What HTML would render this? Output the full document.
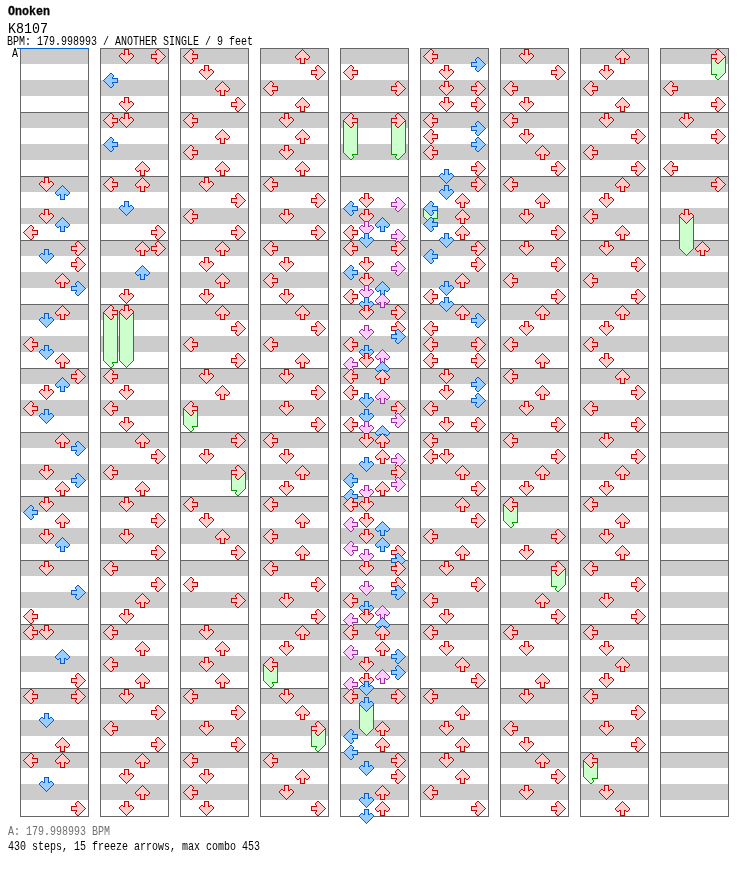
<!DOCTYPE html>
<html><head><meta charset="utf-8"><title>K8107 - Onoken</title>
<style>
html,body{margin:0;padding:0;background:#fff;}
body{width:752px;height:876px;position:relative;overflow:hidden;font-family:"Liberation Mono", "DejaVu Sans Mono", monospace;color:#000;}
svg{position:absolute;left:0;top:0;display:block;}
.t{will-change:transform;position:absolute;white-space:pre;line-height:1;margin:0;transform-origin:0 0;}
#artist{left:8px;top:6.5px;font-size:11.667px;font-weight:bold;-webkit-text-stroke:0.25px #000;transform:scaleY(1.06);}
#title{left:8px;top:22.4px;font-size:13.333px;transform:scaleY(1.139);}
#info{left:7px;top:37.1px;font-size:10px;transform:scaleY(1.214);}
#lab{left:11.5px;top:49.2px;font-size:10px;transform:scaleY(1.214);}
#bpm{left:8px;top:827.1px;font-size:10px;color:#707070;transform:scaleY(1.214);}
#stats{left:8px;top:842.1px;font-size:10px;transform:scaleY(1.214);}
</style></head><body>
<svg width="752" height="876" viewBox="0 0 752 876">
<g shape-rendering="crispEdges">
<rect x="20" y="48" width="69" height="16" fill="#cccccc"/>
<rect x="20" y="80" width="69" height="16" fill="#cccccc"/>
<rect x="20" y="112" width="69" height="16" fill="#cccccc"/>
<rect x="20" y="144" width="69" height="16" fill="#cccccc"/>
<rect x="20" y="176" width="69" height="16" fill="#cccccc"/>
<rect x="20" y="208" width="69" height="16" fill="#cccccc"/>
<rect x="20" y="240" width="69" height="16" fill="#cccccc"/>
<rect x="20" y="272" width="69" height="16" fill="#cccccc"/>
<rect x="20" y="304" width="69" height="16" fill="#cccccc"/>
<rect x="20" y="336" width="69" height="16" fill="#cccccc"/>
<rect x="20" y="368" width="69" height="16" fill="#cccccc"/>
<rect x="20" y="400" width="69" height="16" fill="#cccccc"/>
<rect x="20" y="432" width="69" height="16" fill="#cccccc"/>
<rect x="20" y="464" width="69" height="16" fill="#cccccc"/>
<rect x="20" y="496" width="69" height="16" fill="#cccccc"/>
<rect x="20" y="528" width="69" height="16" fill="#cccccc"/>
<rect x="20" y="560" width="69" height="16" fill="#cccccc"/>
<rect x="20" y="592" width="69" height="16" fill="#cccccc"/>
<rect x="20" y="624" width="69" height="16" fill="#cccccc"/>
<rect x="20" y="656" width="69" height="16" fill="#cccccc"/>
<rect x="20" y="688" width="69" height="16" fill="#cccccc"/>
<rect x="20" y="720" width="69" height="16" fill="#cccccc"/>
<rect x="20" y="752" width="69" height="16" fill="#cccccc"/>
<rect x="20" y="784" width="69" height="16" fill="#cccccc"/>
<rect x="100" y="48" width="69" height="16" fill="#cccccc"/>
<rect x="100" y="80" width="69" height="16" fill="#cccccc"/>
<rect x="100" y="112" width="69" height="16" fill="#cccccc"/>
<rect x="100" y="144" width="69" height="16" fill="#cccccc"/>
<rect x="100" y="176" width="69" height="16" fill="#cccccc"/>
<rect x="100" y="208" width="69" height="16" fill="#cccccc"/>
<rect x="100" y="240" width="69" height="16" fill="#cccccc"/>
<rect x="100" y="272" width="69" height="16" fill="#cccccc"/>
<rect x="100" y="304" width="69" height="16" fill="#cccccc"/>
<rect x="100" y="336" width="69" height="16" fill="#cccccc"/>
<rect x="100" y="368" width="69" height="16" fill="#cccccc"/>
<rect x="100" y="400" width="69" height="16" fill="#cccccc"/>
<rect x="100" y="432" width="69" height="16" fill="#cccccc"/>
<rect x="100" y="464" width="69" height="16" fill="#cccccc"/>
<rect x="100" y="496" width="69" height="16" fill="#cccccc"/>
<rect x="100" y="528" width="69" height="16" fill="#cccccc"/>
<rect x="100" y="560" width="69" height="16" fill="#cccccc"/>
<rect x="100" y="592" width="69" height="16" fill="#cccccc"/>
<rect x="100" y="624" width="69" height="16" fill="#cccccc"/>
<rect x="100" y="656" width="69" height="16" fill="#cccccc"/>
<rect x="100" y="688" width="69" height="16" fill="#cccccc"/>
<rect x="100" y="720" width="69" height="16" fill="#cccccc"/>
<rect x="100" y="752" width="69" height="16" fill="#cccccc"/>
<rect x="100" y="784" width="69" height="16" fill="#cccccc"/>
<rect x="180" y="48" width="69" height="16" fill="#cccccc"/>
<rect x="180" y="80" width="69" height="16" fill="#cccccc"/>
<rect x="180" y="112" width="69" height="16" fill="#cccccc"/>
<rect x="180" y="144" width="69" height="16" fill="#cccccc"/>
<rect x="180" y="176" width="69" height="16" fill="#cccccc"/>
<rect x="180" y="208" width="69" height="16" fill="#cccccc"/>
<rect x="180" y="240" width="69" height="16" fill="#cccccc"/>
<rect x="180" y="272" width="69" height="16" fill="#cccccc"/>
<rect x="180" y="304" width="69" height="16" fill="#cccccc"/>
<rect x="180" y="336" width="69" height="16" fill="#cccccc"/>
<rect x="180" y="368" width="69" height="16" fill="#cccccc"/>
<rect x="180" y="400" width="69" height="16" fill="#cccccc"/>
<rect x="180" y="432" width="69" height="16" fill="#cccccc"/>
<rect x="180" y="464" width="69" height="16" fill="#cccccc"/>
<rect x="180" y="496" width="69" height="16" fill="#cccccc"/>
<rect x="180" y="528" width="69" height="16" fill="#cccccc"/>
<rect x="180" y="560" width="69" height="16" fill="#cccccc"/>
<rect x="180" y="592" width="69" height="16" fill="#cccccc"/>
<rect x="180" y="624" width="69" height="16" fill="#cccccc"/>
<rect x="180" y="656" width="69" height="16" fill="#cccccc"/>
<rect x="180" y="688" width="69" height="16" fill="#cccccc"/>
<rect x="180" y="720" width="69" height="16" fill="#cccccc"/>
<rect x="180" y="752" width="69" height="16" fill="#cccccc"/>
<rect x="180" y="784" width="69" height="16" fill="#cccccc"/>
<rect x="260" y="48" width="69" height="16" fill="#cccccc"/>
<rect x="260" y="80" width="69" height="16" fill="#cccccc"/>
<rect x="260" y="112" width="69" height="16" fill="#cccccc"/>
<rect x="260" y="144" width="69" height="16" fill="#cccccc"/>
<rect x="260" y="176" width="69" height="16" fill="#cccccc"/>
<rect x="260" y="208" width="69" height="16" fill="#cccccc"/>
<rect x="260" y="240" width="69" height="16" fill="#cccccc"/>
<rect x="260" y="272" width="69" height="16" fill="#cccccc"/>
<rect x="260" y="304" width="69" height="16" fill="#cccccc"/>
<rect x="260" y="336" width="69" height="16" fill="#cccccc"/>
<rect x="260" y="368" width="69" height="16" fill="#cccccc"/>
<rect x="260" y="400" width="69" height="16" fill="#cccccc"/>
<rect x="260" y="432" width="69" height="16" fill="#cccccc"/>
<rect x="260" y="464" width="69" height="16" fill="#cccccc"/>
<rect x="260" y="496" width="69" height="16" fill="#cccccc"/>
<rect x="260" y="528" width="69" height="16" fill="#cccccc"/>
<rect x="260" y="560" width="69" height="16" fill="#cccccc"/>
<rect x="260" y="592" width="69" height="16" fill="#cccccc"/>
<rect x="260" y="624" width="69" height="16" fill="#cccccc"/>
<rect x="260" y="656" width="69" height="16" fill="#cccccc"/>
<rect x="260" y="688" width="69" height="16" fill="#cccccc"/>
<rect x="260" y="720" width="69" height="16" fill="#cccccc"/>
<rect x="260" y="752" width="69" height="16" fill="#cccccc"/>
<rect x="260" y="784" width="69" height="16" fill="#cccccc"/>
<rect x="340" y="48" width="69" height="16" fill="#cccccc"/>
<rect x="340" y="80" width="69" height="16" fill="#cccccc"/>
<rect x="340" y="112" width="69" height="16" fill="#cccccc"/>
<rect x="340" y="144" width="69" height="16" fill="#cccccc"/>
<rect x="340" y="176" width="69" height="16" fill="#cccccc"/>
<rect x="340" y="208" width="69" height="16" fill="#cccccc"/>
<rect x="340" y="240" width="69" height="16" fill="#cccccc"/>
<rect x="340" y="272" width="69" height="16" fill="#cccccc"/>
<rect x="340" y="304" width="69" height="16" fill="#cccccc"/>
<rect x="340" y="336" width="69" height="16" fill="#cccccc"/>
<rect x="340" y="368" width="69" height="16" fill="#cccccc"/>
<rect x="340" y="400" width="69" height="16" fill="#cccccc"/>
<rect x="340" y="432" width="69" height="16" fill="#cccccc"/>
<rect x="340" y="464" width="69" height="16" fill="#cccccc"/>
<rect x="340" y="496" width="69" height="16" fill="#cccccc"/>
<rect x="340" y="528" width="69" height="16" fill="#cccccc"/>
<rect x="340" y="560" width="69" height="16" fill="#cccccc"/>
<rect x="340" y="592" width="69" height="16" fill="#cccccc"/>
<rect x="340" y="624" width="69" height="16" fill="#cccccc"/>
<rect x="340" y="656" width="69" height="16" fill="#cccccc"/>
<rect x="340" y="688" width="69" height="16" fill="#cccccc"/>
<rect x="340" y="720" width="69" height="16" fill="#cccccc"/>
<rect x="340" y="752" width="69" height="16" fill="#cccccc"/>
<rect x="340" y="784" width="69" height="16" fill="#cccccc"/>
<rect x="420" y="48" width="69" height="16" fill="#cccccc"/>
<rect x="420" y="80" width="69" height="16" fill="#cccccc"/>
<rect x="420" y="112" width="69" height="16" fill="#cccccc"/>
<rect x="420" y="144" width="69" height="16" fill="#cccccc"/>
<rect x="420" y="176" width="69" height="16" fill="#cccccc"/>
<rect x="420" y="208" width="69" height="16" fill="#cccccc"/>
<rect x="420" y="240" width="69" height="16" fill="#cccccc"/>
<rect x="420" y="272" width="69" height="16" fill="#cccccc"/>
<rect x="420" y="304" width="69" height="16" fill="#cccccc"/>
<rect x="420" y="336" width="69" height="16" fill="#cccccc"/>
<rect x="420" y="368" width="69" height="16" fill="#cccccc"/>
<rect x="420" y="400" width="69" height="16" fill="#cccccc"/>
<rect x="420" y="432" width="69" height="16" fill="#cccccc"/>
<rect x="420" y="464" width="69" height="16" fill="#cccccc"/>
<rect x="420" y="496" width="69" height="16" fill="#cccccc"/>
<rect x="420" y="528" width="69" height="16" fill="#cccccc"/>
<rect x="420" y="560" width="69" height="16" fill="#cccccc"/>
<rect x="420" y="592" width="69" height="16" fill="#cccccc"/>
<rect x="420" y="624" width="69" height="16" fill="#cccccc"/>
<rect x="420" y="656" width="69" height="16" fill="#cccccc"/>
<rect x="420" y="688" width="69" height="16" fill="#cccccc"/>
<rect x="420" y="720" width="69" height="16" fill="#cccccc"/>
<rect x="420" y="752" width="69" height="16" fill="#cccccc"/>
<rect x="420" y="784" width="69" height="16" fill="#cccccc"/>
<rect x="500" y="48" width="69" height="16" fill="#cccccc"/>
<rect x="500" y="80" width="69" height="16" fill="#cccccc"/>
<rect x="500" y="112" width="69" height="16" fill="#cccccc"/>
<rect x="500" y="144" width="69" height="16" fill="#cccccc"/>
<rect x="500" y="176" width="69" height="16" fill="#cccccc"/>
<rect x="500" y="208" width="69" height="16" fill="#cccccc"/>
<rect x="500" y="240" width="69" height="16" fill="#cccccc"/>
<rect x="500" y="272" width="69" height="16" fill="#cccccc"/>
<rect x="500" y="304" width="69" height="16" fill="#cccccc"/>
<rect x="500" y="336" width="69" height="16" fill="#cccccc"/>
<rect x="500" y="368" width="69" height="16" fill="#cccccc"/>
<rect x="500" y="400" width="69" height="16" fill="#cccccc"/>
<rect x="500" y="432" width="69" height="16" fill="#cccccc"/>
<rect x="500" y="464" width="69" height="16" fill="#cccccc"/>
<rect x="500" y="496" width="69" height="16" fill="#cccccc"/>
<rect x="500" y="528" width="69" height="16" fill="#cccccc"/>
<rect x="500" y="560" width="69" height="16" fill="#cccccc"/>
<rect x="500" y="592" width="69" height="16" fill="#cccccc"/>
<rect x="500" y="624" width="69" height="16" fill="#cccccc"/>
<rect x="500" y="656" width="69" height="16" fill="#cccccc"/>
<rect x="500" y="688" width="69" height="16" fill="#cccccc"/>
<rect x="500" y="720" width="69" height="16" fill="#cccccc"/>
<rect x="500" y="752" width="69" height="16" fill="#cccccc"/>
<rect x="500" y="784" width="69" height="16" fill="#cccccc"/>
<rect x="580" y="48" width="69" height="16" fill="#cccccc"/>
<rect x="580" y="80" width="69" height="16" fill="#cccccc"/>
<rect x="580" y="112" width="69" height="16" fill="#cccccc"/>
<rect x="580" y="144" width="69" height="16" fill="#cccccc"/>
<rect x="580" y="176" width="69" height="16" fill="#cccccc"/>
<rect x="580" y="208" width="69" height="16" fill="#cccccc"/>
<rect x="580" y="240" width="69" height="16" fill="#cccccc"/>
<rect x="580" y="272" width="69" height="16" fill="#cccccc"/>
<rect x="580" y="304" width="69" height="16" fill="#cccccc"/>
<rect x="580" y="336" width="69" height="16" fill="#cccccc"/>
<rect x="580" y="368" width="69" height="16" fill="#cccccc"/>
<rect x="580" y="400" width="69" height="16" fill="#cccccc"/>
<rect x="580" y="432" width="69" height="16" fill="#cccccc"/>
<rect x="580" y="464" width="69" height="16" fill="#cccccc"/>
<rect x="580" y="496" width="69" height="16" fill="#cccccc"/>
<rect x="580" y="528" width="69" height="16" fill="#cccccc"/>
<rect x="580" y="560" width="69" height="16" fill="#cccccc"/>
<rect x="580" y="592" width="69" height="16" fill="#cccccc"/>
<rect x="580" y="624" width="69" height="16" fill="#cccccc"/>
<rect x="580" y="656" width="69" height="16" fill="#cccccc"/>
<rect x="580" y="688" width="69" height="16" fill="#cccccc"/>
<rect x="580" y="720" width="69" height="16" fill="#cccccc"/>
<rect x="580" y="752" width="69" height="16" fill="#cccccc"/>
<rect x="580" y="784" width="69" height="16" fill="#cccccc"/>
<rect x="660" y="48" width="69" height="16" fill="#cccccc"/>
<rect x="660" y="80" width="69" height="16" fill="#cccccc"/>
<rect x="660" y="112" width="69" height="16" fill="#cccccc"/>
<rect x="660" y="144" width="69" height="16" fill="#cccccc"/>
<rect x="660" y="176" width="69" height="16" fill="#cccccc"/>
<rect x="660" y="208" width="69" height="16" fill="#cccccc"/>
<rect x="660" y="240" width="69" height="16" fill="#cccccc"/>
<rect x="660" y="272" width="69" height="16" fill="#cccccc"/>
<rect x="660" y="304" width="69" height="16" fill="#cccccc"/>
<rect x="660" y="336" width="69" height="16" fill="#cccccc"/>
<rect x="660" y="368" width="69" height="16" fill="#cccccc"/>
<rect x="660" y="400" width="69" height="16" fill="#cccccc"/>
<rect x="660" y="432" width="69" height="16" fill="#cccccc"/>
<rect x="660" y="464" width="69" height="16" fill="#cccccc"/>
<rect x="660" y="496" width="69" height="16" fill="#cccccc"/>
<rect x="660" y="528" width="69" height="16" fill="#cccccc"/>
<rect x="660" y="560" width="69" height="16" fill="#cccccc"/>
<rect x="660" y="592" width="69" height="16" fill="#cccccc"/>
<rect x="660" y="624" width="69" height="16" fill="#cccccc"/>
<rect x="660" y="656" width="69" height="16" fill="#cccccc"/>
<rect x="660" y="688" width="69" height="16" fill="#cccccc"/>
<rect x="660" y="720" width="69" height="16" fill="#cccccc"/>
<rect x="660" y="752" width="69" height="16" fill="#cccccc"/>
<rect x="660" y="784" width="69" height="16" fill="#cccccc"/>
<rect x="20.5" y="48.5" width="68" height="768" fill="none" stroke="#666666"/>
<rect x="20" y="112" width="69" height="1" fill="#666666"/>
<rect x="20" y="176" width="69" height="1" fill="#666666"/>
<rect x="20" y="240" width="69" height="1" fill="#666666"/>
<rect x="20" y="304" width="69" height="1" fill="#666666"/>
<rect x="20" y="368" width="69" height="1" fill="#666666"/>
<rect x="20" y="432" width="69" height="1" fill="#666666"/>
<rect x="20" y="496" width="69" height="1" fill="#666666"/>
<rect x="20" y="560" width="69" height="1" fill="#666666"/>
<rect x="20" y="624" width="69" height="1" fill="#666666"/>
<rect x="20" y="688" width="69" height="1" fill="#666666"/>
<rect x="20" y="752" width="69" height="1" fill="#666666"/>
<rect x="100.5" y="48.5" width="68" height="768" fill="none" stroke="#666666"/>
<rect x="100" y="112" width="69" height="1" fill="#666666"/>
<rect x="100" y="176" width="69" height="1" fill="#666666"/>
<rect x="100" y="240" width="69" height="1" fill="#666666"/>
<rect x="100" y="304" width="69" height="1" fill="#666666"/>
<rect x="100" y="368" width="69" height="1" fill="#666666"/>
<rect x="100" y="432" width="69" height="1" fill="#666666"/>
<rect x="100" y="496" width="69" height="1" fill="#666666"/>
<rect x="100" y="560" width="69" height="1" fill="#666666"/>
<rect x="100" y="624" width="69" height="1" fill="#666666"/>
<rect x="100" y="688" width="69" height="1" fill="#666666"/>
<rect x="100" y="752" width="69" height="1" fill="#666666"/>
<rect x="180.5" y="48.5" width="68" height="768" fill="none" stroke="#666666"/>
<rect x="180" y="112" width="69" height="1" fill="#666666"/>
<rect x="180" y="176" width="69" height="1" fill="#666666"/>
<rect x="180" y="240" width="69" height="1" fill="#666666"/>
<rect x="180" y="304" width="69" height="1" fill="#666666"/>
<rect x="180" y="368" width="69" height="1" fill="#666666"/>
<rect x="180" y="432" width="69" height="1" fill="#666666"/>
<rect x="180" y="496" width="69" height="1" fill="#666666"/>
<rect x="180" y="560" width="69" height="1" fill="#666666"/>
<rect x="180" y="624" width="69" height="1" fill="#666666"/>
<rect x="180" y="688" width="69" height="1" fill="#666666"/>
<rect x="180" y="752" width="69" height="1" fill="#666666"/>
<rect x="260.5" y="48.5" width="68" height="768" fill="none" stroke="#666666"/>
<rect x="260" y="112" width="69" height="1" fill="#666666"/>
<rect x="260" y="176" width="69" height="1" fill="#666666"/>
<rect x="260" y="240" width="69" height="1" fill="#666666"/>
<rect x="260" y="304" width="69" height="1" fill="#666666"/>
<rect x="260" y="368" width="69" height="1" fill="#666666"/>
<rect x="260" y="432" width="69" height="1" fill="#666666"/>
<rect x="260" y="496" width="69" height="1" fill="#666666"/>
<rect x="260" y="560" width="69" height="1" fill="#666666"/>
<rect x="260" y="624" width="69" height="1" fill="#666666"/>
<rect x="260" y="688" width="69" height="1" fill="#666666"/>
<rect x="260" y="752" width="69" height="1" fill="#666666"/>
<rect x="340.5" y="48.5" width="68" height="768" fill="none" stroke="#666666"/>
<rect x="340" y="112" width="69" height="1" fill="#666666"/>
<rect x="340" y="176" width="69" height="1" fill="#666666"/>
<rect x="340" y="240" width="69" height="1" fill="#666666"/>
<rect x="340" y="304" width="69" height="1" fill="#666666"/>
<rect x="340" y="368" width="69" height="1" fill="#666666"/>
<rect x="340" y="432" width="69" height="1" fill="#666666"/>
<rect x="340" y="496" width="69" height="1" fill="#666666"/>
<rect x="340" y="560" width="69" height="1" fill="#666666"/>
<rect x="340" y="624" width="69" height="1" fill="#666666"/>
<rect x="340" y="688" width="69" height="1" fill="#666666"/>
<rect x="340" y="752" width="69" height="1" fill="#666666"/>
<rect x="420.5" y="48.5" width="68" height="768" fill="none" stroke="#666666"/>
<rect x="420" y="112" width="69" height="1" fill="#666666"/>
<rect x="420" y="176" width="69" height="1" fill="#666666"/>
<rect x="420" y="240" width="69" height="1" fill="#666666"/>
<rect x="420" y="304" width="69" height="1" fill="#666666"/>
<rect x="420" y="368" width="69" height="1" fill="#666666"/>
<rect x="420" y="432" width="69" height="1" fill="#666666"/>
<rect x="420" y="496" width="69" height="1" fill="#666666"/>
<rect x="420" y="560" width="69" height="1" fill="#666666"/>
<rect x="420" y="624" width="69" height="1" fill="#666666"/>
<rect x="420" y="688" width="69" height="1" fill="#666666"/>
<rect x="420" y="752" width="69" height="1" fill="#666666"/>
<rect x="500.5" y="48.5" width="68" height="768" fill="none" stroke="#666666"/>
<rect x="500" y="112" width="69" height="1" fill="#666666"/>
<rect x="500" y="176" width="69" height="1" fill="#666666"/>
<rect x="500" y="240" width="69" height="1" fill="#666666"/>
<rect x="500" y="304" width="69" height="1" fill="#666666"/>
<rect x="500" y="368" width="69" height="1" fill="#666666"/>
<rect x="500" y="432" width="69" height="1" fill="#666666"/>
<rect x="500" y="496" width="69" height="1" fill="#666666"/>
<rect x="500" y="560" width="69" height="1" fill="#666666"/>
<rect x="500" y="624" width="69" height="1" fill="#666666"/>
<rect x="500" y="688" width="69" height="1" fill="#666666"/>
<rect x="500" y="752" width="69" height="1" fill="#666666"/>
<rect x="580.5" y="48.5" width="68" height="768" fill="none" stroke="#666666"/>
<rect x="580" y="112" width="69" height="1" fill="#666666"/>
<rect x="580" y="176" width="69" height="1" fill="#666666"/>
<rect x="580" y="240" width="69" height="1" fill="#666666"/>
<rect x="580" y="304" width="69" height="1" fill="#666666"/>
<rect x="580" y="368" width="69" height="1" fill="#666666"/>
<rect x="580" y="432" width="69" height="1" fill="#666666"/>
<rect x="580" y="496" width="69" height="1" fill="#666666"/>
<rect x="580" y="560" width="69" height="1" fill="#666666"/>
<rect x="580" y="624" width="69" height="1" fill="#666666"/>
<rect x="580" y="688" width="69" height="1" fill="#666666"/>
<rect x="580" y="752" width="69" height="1" fill="#666666"/>
<rect x="660.5" y="48.5" width="68" height="768" fill="none" stroke="#666666"/>
<rect x="660" y="112" width="69" height="1" fill="#666666"/>
<rect x="660" y="176" width="69" height="1" fill="#666666"/>
<rect x="660" y="240" width="69" height="1" fill="#666666"/>
<rect x="660" y="304" width="69" height="1" fill="#666666"/>
<rect x="660" y="368" width="69" height="1" fill="#666666"/>
<rect x="660" y="432" width="69" height="1" fill="#666666"/>
<rect x="660" y="496" width="69" height="1" fill="#666666"/>
<rect x="660" y="560" width="69" height="1" fill="#666666"/>
<rect x="660" y="624" width="69" height="1" fill="#666666"/>
<rect x="660" y="688" width="69" height="1" fill="#666666"/>
<rect x="660" y="752" width="69" height="1" fill="#666666"/>
<rect x="17" y="48" width="72" height="1" fill="#0066cc"/>
</g>
<g stroke-width="1" stroke-linejoin="miter" shape-rendering="crispEdges">
<polygon points="44.5,177.5 48.5,177.5 48.5,182.5 49.5,182.5 50.5,181.5 51.5,181.5 53.5,183.5 53.5,184.5 46.5,191.5 39.5,184.5 39.5,183.5 41.5,181.5 42.5,181.5 43.5,182.5 44.5,182.5" fill="#ffcccc" stroke="#d40000"/>
<polygon points="60.5,199.5 64.5,199.5 64.5,194.5 65.5,194.5 66.5,195.5 67.5,195.5 69.5,193.5 69.5,192.5 62.5,185.5 55.5,192.5 55.5,193.5 57.5,195.5 58.5,195.5 59.5,194.5 60.5,194.5" fill="#99ccff" stroke="#005fcc"/>
<polygon points="44.5,209.5 48.5,209.5 48.5,214.5 49.5,214.5 50.5,213.5 51.5,213.5 53.5,215.5 53.5,216.5 46.5,223.5 39.5,216.5 39.5,215.5 41.5,213.5 42.5,213.5 43.5,214.5 44.5,214.5" fill="#ffcccc" stroke="#d40000"/>
<polygon points="60.5,231.5 64.5,231.5 64.5,226.5 65.5,226.5 66.5,227.5 67.5,227.5 69.5,225.5 69.5,224.5 62.5,217.5 55.5,224.5 55.5,225.5 57.5,227.5 58.5,227.5 59.5,226.5 60.5,226.5" fill="#99ccff" stroke="#005fcc"/>
<polygon points="37.5,230.5 37.5,234.5 32.5,234.5 32.5,235.5 33.5,236.5 33.5,237.5 31.5,239.5 30.5,239.5 23.5,232.5 30.5,225.5 31.5,225.5 33.5,227.5 33.5,228.5 32.5,229.5 32.5,230.5" fill="#ffcccc" stroke="#d40000"/>
<polygon points="71.5,246.5 71.5,250.5 76.5,250.5 76.5,251.5 75.5,252.5 75.5,253.5 77.5,255.5 78.5,255.5 85.5,248.5 78.5,241.5 77.5,241.5 75.5,243.5 75.5,244.5 76.5,245.5 76.5,246.5" fill="#ffcccc" stroke="#d40000"/>
<polygon points="44.5,249.5 48.5,249.5 48.5,254.5 49.5,254.5 50.5,253.5 51.5,253.5 53.5,255.5 53.5,256.5 46.5,263.5 39.5,256.5 39.5,255.5 41.5,253.5 42.5,253.5 43.5,254.5 44.5,254.5" fill="#99ccff" stroke="#005fcc"/>
<polygon points="71.5,262.5 71.5,266.5 76.5,266.5 76.5,267.5 75.5,268.5 75.5,269.5 77.5,271.5 78.5,271.5 85.5,264.5 78.5,257.5 77.5,257.5 75.5,259.5 75.5,260.5 76.5,261.5 76.5,262.5" fill="#ffcccc" stroke="#d40000"/>
<polygon points="60.5,287.5 64.5,287.5 64.5,282.5 65.5,282.5 66.5,283.5 67.5,283.5 69.5,281.5 69.5,280.5 62.5,273.5 55.5,280.5 55.5,281.5 57.5,283.5 58.5,283.5 59.5,282.5 60.5,282.5" fill="#ffcccc" stroke="#d40000"/>
<polygon points="71.5,286.5 71.5,290.5 76.5,290.5 76.5,291.5 75.5,292.5 75.5,293.5 77.5,295.5 78.5,295.5 85.5,288.5 78.5,281.5 77.5,281.5 75.5,283.5 75.5,284.5 76.5,285.5 76.5,286.5" fill="#99ccff" stroke="#005fcc"/>
<polygon points="60.5,319.5 64.5,319.5 64.5,314.5 65.5,314.5 66.5,315.5 67.5,315.5 69.5,313.5 69.5,312.5 62.5,305.5 55.5,312.5 55.5,313.5 57.5,315.5 58.5,315.5 59.5,314.5 60.5,314.5" fill="#ffcccc" stroke="#d40000"/>
<polygon points="44.5,313.5 48.5,313.5 48.5,318.5 49.5,318.5 50.5,317.5 51.5,317.5 53.5,319.5 53.5,320.5 46.5,327.5 39.5,320.5 39.5,319.5 41.5,317.5 42.5,317.5 43.5,318.5 44.5,318.5" fill="#99ccff" stroke="#005fcc"/>
<polygon points="37.5,342.5 37.5,346.5 32.5,346.5 32.5,347.5 33.5,348.5 33.5,349.5 31.5,351.5 30.5,351.5 23.5,344.5 30.5,337.5 31.5,337.5 33.5,339.5 33.5,340.5 32.5,341.5 32.5,342.5" fill="#ffcccc" stroke="#d40000"/>
<polygon points="44.5,345.5 48.5,345.5 48.5,350.5 49.5,350.5 50.5,349.5 51.5,349.5 53.5,351.5 53.5,352.5 46.5,359.5 39.5,352.5 39.5,351.5 41.5,349.5 42.5,349.5 43.5,350.5 44.5,350.5" fill="#99ccff" stroke="#005fcc"/>
<polygon points="60.5,367.5 64.5,367.5 64.5,362.5 65.5,362.5 66.5,363.5 67.5,363.5 69.5,361.5 69.5,360.5 62.5,353.5 55.5,360.5 55.5,361.5 57.5,363.5 58.5,363.5 59.5,362.5 60.5,362.5" fill="#ffcccc" stroke="#d40000"/>
<polygon points="71.5,374.5 71.5,378.5 76.5,378.5 76.5,379.5 75.5,380.5 75.5,381.5 77.5,383.5 78.5,383.5 85.5,376.5 78.5,369.5 77.5,369.5 75.5,371.5 75.5,372.5 76.5,373.5 76.5,374.5" fill="#ffcccc" stroke="#d40000"/>
<polygon points="60.5,391.5 64.5,391.5 64.5,386.5 65.5,386.5 66.5,387.5 67.5,387.5 69.5,385.5 69.5,384.5 62.5,377.5 55.5,384.5 55.5,385.5 57.5,387.5 58.5,387.5 59.5,386.5 60.5,386.5" fill="#99ccff" stroke="#005fcc"/>
<polygon points="44.5,385.5 48.5,385.5 48.5,390.5 49.5,390.5 50.5,389.5 51.5,389.5 53.5,391.5 53.5,392.5 46.5,399.5 39.5,392.5 39.5,391.5 41.5,389.5 42.5,389.5 43.5,390.5 44.5,390.5" fill="#ffcccc" stroke="#d40000"/>
<polygon points="37.5,406.5 37.5,410.5 32.5,410.5 32.5,411.5 33.5,412.5 33.5,413.5 31.5,415.5 30.5,415.5 23.5,408.5 30.5,401.5 31.5,401.5 33.5,403.5 33.5,404.5 32.5,405.5 32.5,406.5" fill="#ffcccc" stroke="#d40000"/>
<polygon points="44.5,409.5 48.5,409.5 48.5,414.5 49.5,414.5 50.5,413.5 51.5,413.5 53.5,415.5 53.5,416.5 46.5,423.5 39.5,416.5 39.5,415.5 41.5,413.5 42.5,413.5 43.5,414.5 44.5,414.5" fill="#99ccff" stroke="#005fcc"/>
<polygon points="60.5,447.5 64.5,447.5 64.5,442.5 65.5,442.5 66.5,443.5 67.5,443.5 69.5,441.5 69.5,440.5 62.5,433.5 55.5,440.5 55.5,441.5 57.5,443.5 58.5,443.5 59.5,442.5 60.5,442.5" fill="#ffcccc" stroke="#d40000"/>
<polygon points="71.5,446.5 71.5,450.5 76.5,450.5 76.5,451.5 75.5,452.5 75.5,453.5 77.5,455.5 78.5,455.5 85.5,448.5 78.5,441.5 77.5,441.5 75.5,443.5 75.5,444.5 76.5,445.5 76.5,446.5" fill="#99ccff" stroke="#005fcc"/>
<polygon points="44.5,465.5 48.5,465.5 48.5,470.5 49.5,470.5 50.5,469.5 51.5,469.5 53.5,471.5 53.5,472.5 46.5,479.5 39.5,472.5 39.5,471.5 41.5,469.5 42.5,469.5 43.5,470.5 44.5,470.5" fill="#ffcccc" stroke="#d40000"/>
<polygon points="71.5,478.5 71.5,482.5 76.5,482.5 76.5,483.5 75.5,484.5 75.5,485.5 77.5,487.5 78.5,487.5 85.5,480.5 78.5,473.5 77.5,473.5 75.5,475.5 75.5,476.5 76.5,477.5 76.5,478.5" fill="#99ccff" stroke="#005fcc"/>
<polygon points="60.5,495.5 64.5,495.5 64.5,490.5 65.5,490.5 66.5,491.5 67.5,491.5 69.5,489.5 69.5,488.5 62.5,481.5 55.5,488.5 55.5,489.5 57.5,491.5 58.5,491.5 59.5,490.5 60.5,490.5" fill="#ffcccc" stroke="#d40000"/>
<polygon points="44.5,497.5 48.5,497.5 48.5,502.5 49.5,502.5 50.5,501.5 51.5,501.5 53.5,503.5 53.5,504.5 46.5,511.5 39.5,504.5 39.5,503.5 41.5,501.5 42.5,501.5 43.5,502.5 44.5,502.5" fill="#ffcccc" stroke="#d40000"/>
<polygon points="37.5,510.5 37.5,514.5 32.5,514.5 32.5,515.5 33.5,516.5 33.5,517.5 31.5,519.5 30.5,519.5 23.5,512.5 30.5,505.5 31.5,505.5 33.5,507.5 33.5,508.5 32.5,509.5 32.5,510.5" fill="#99ccff" stroke="#005fcc"/>
<polygon points="60.5,527.5 64.5,527.5 64.5,522.5 65.5,522.5 66.5,523.5 67.5,523.5 69.5,521.5 69.5,520.5 62.5,513.5 55.5,520.5 55.5,521.5 57.5,523.5 58.5,523.5 59.5,522.5 60.5,522.5" fill="#ffcccc" stroke="#d40000"/>
<polygon points="44.5,529.5 48.5,529.5 48.5,534.5 49.5,534.5 50.5,533.5 51.5,533.5 53.5,535.5 53.5,536.5 46.5,543.5 39.5,536.5 39.5,535.5 41.5,533.5 42.5,533.5 43.5,534.5 44.5,534.5" fill="#ffcccc" stroke="#d40000"/>
<polygon points="60.5,551.5 64.5,551.5 64.5,546.5 65.5,546.5 66.5,547.5 67.5,547.5 69.5,545.5 69.5,544.5 62.5,537.5 55.5,544.5 55.5,545.5 57.5,547.5 58.5,547.5 59.5,546.5 60.5,546.5" fill="#99ccff" stroke="#005fcc"/>
<polygon points="44.5,561.5 48.5,561.5 48.5,566.5 49.5,566.5 50.5,565.5 51.5,565.5 53.5,567.5 53.5,568.5 46.5,575.5 39.5,568.5 39.5,567.5 41.5,565.5 42.5,565.5 43.5,566.5 44.5,566.5" fill="#ffcccc" stroke="#d40000"/>
<polygon points="71.5,590.5 71.5,594.5 76.5,594.5 76.5,595.5 75.5,596.5 75.5,597.5 77.5,599.5 78.5,599.5 85.5,592.5 78.5,585.5 77.5,585.5 75.5,587.5 75.5,588.5 76.5,589.5 76.5,590.5" fill="#99ccff" stroke="#005fcc"/>
<polygon points="37.5,614.5 37.5,618.5 32.5,618.5 32.5,619.5 33.5,620.5 33.5,621.5 31.5,623.5 30.5,623.5 23.5,616.5 30.5,609.5 31.5,609.5 33.5,611.5 33.5,612.5 32.5,613.5 32.5,614.5" fill="#ffcccc" stroke="#d40000"/>
<polygon points="37.5,630.5 37.5,634.5 32.5,634.5 32.5,635.5 33.5,636.5 33.5,637.5 31.5,639.5 30.5,639.5 23.5,632.5 30.5,625.5 31.5,625.5 33.5,627.5 33.5,628.5 32.5,629.5 32.5,630.5" fill="#ffcccc" stroke="#d40000"/>
<polygon points="44.5,625.5 48.5,625.5 48.5,630.5 49.5,630.5 50.5,629.5 51.5,629.5 53.5,631.5 53.5,632.5 46.5,639.5 39.5,632.5 39.5,631.5 41.5,629.5 42.5,629.5 43.5,630.5 44.5,630.5" fill="#ffcccc" stroke="#d40000"/>
<polygon points="60.5,663.5 64.5,663.5 64.5,658.5 65.5,658.5 66.5,659.5 67.5,659.5 69.5,657.5 69.5,656.5 62.5,649.5 55.5,656.5 55.5,657.5 57.5,659.5 58.5,659.5 59.5,658.5 60.5,658.5" fill="#99ccff" stroke="#005fcc"/>
<polygon points="71.5,678.5 71.5,682.5 76.5,682.5 76.5,683.5 75.5,684.5 75.5,685.5 77.5,687.5 78.5,687.5 85.5,680.5 78.5,673.5 77.5,673.5 75.5,675.5 75.5,676.5 76.5,677.5 76.5,678.5" fill="#ffcccc" stroke="#d40000"/>
<polygon points="37.5,694.5 37.5,698.5 32.5,698.5 32.5,699.5 33.5,700.5 33.5,701.5 31.5,703.5 30.5,703.5 23.5,696.5 30.5,689.5 31.5,689.5 33.5,691.5 33.5,692.5 32.5,693.5 32.5,694.5" fill="#ffcccc" stroke="#d40000"/>
<polygon points="71.5,694.5 71.5,698.5 76.5,698.5 76.5,699.5 75.5,700.5 75.5,701.5 77.5,703.5 78.5,703.5 85.5,696.5 78.5,689.5 77.5,689.5 75.5,691.5 75.5,692.5 76.5,693.5 76.5,694.5" fill="#ffcccc" stroke="#d40000"/>
<polygon points="44.5,713.5 48.5,713.5 48.5,718.5 49.5,718.5 50.5,717.5 51.5,717.5 53.5,719.5 53.5,720.5 46.5,727.5 39.5,720.5 39.5,719.5 41.5,717.5 42.5,717.5 43.5,718.5 44.5,718.5" fill="#99ccff" stroke="#005fcc"/>
<polygon points="60.5,751.5 64.5,751.5 64.5,746.5 65.5,746.5 66.5,747.5 67.5,747.5 69.5,745.5 69.5,744.5 62.5,737.5 55.5,744.5 55.5,745.5 57.5,747.5 58.5,747.5 59.5,746.5 60.5,746.5" fill="#ffcccc" stroke="#d40000"/>
<polygon points="37.5,758.5 37.5,762.5 32.5,762.5 32.5,763.5 33.5,764.5 33.5,765.5 31.5,767.5 30.5,767.5 23.5,760.5 30.5,753.5 31.5,753.5 33.5,755.5 33.5,756.5 32.5,757.5 32.5,758.5" fill="#ffcccc" stroke="#d40000"/>
<polygon points="60.5,767.5 64.5,767.5 64.5,762.5 65.5,762.5 66.5,763.5 67.5,763.5 69.5,761.5 69.5,760.5 62.5,753.5 55.5,760.5 55.5,761.5 57.5,763.5 58.5,763.5 59.5,762.5 60.5,762.5" fill="#ffcccc" stroke="#d40000"/>
<polygon points="44.5,777.5 48.5,777.5 48.5,782.5 49.5,782.5 50.5,781.5 51.5,781.5 53.5,783.5 53.5,784.5 46.5,791.5 39.5,784.5 39.5,783.5 41.5,781.5 42.5,781.5 43.5,782.5 44.5,782.5" fill="#99ccff" stroke="#005fcc"/>
<polygon points="71.5,806.5 71.5,810.5 76.5,810.5 76.5,811.5 75.5,812.5 75.5,813.5 77.5,815.5 78.5,815.5 85.5,808.5 78.5,801.5 77.5,801.5 75.5,803.5 75.5,804.5 76.5,805.5 76.5,806.5" fill="#ffcccc" stroke="#d40000"/>
<polygon points="124.5,49.5 128.5,49.5 128.5,54.5 129.5,54.5 130.5,53.5 131.5,53.5 133.5,55.5 133.5,56.5 126.5,63.5 119.5,56.5 119.5,55.5 121.5,53.5 122.5,53.5 123.5,54.5 124.5,54.5" fill="#ffcccc" stroke="#d40000"/>
<polygon points="151.5,54.5 151.5,58.5 156.5,58.5 156.5,59.5 155.5,60.5 155.5,61.5 157.5,63.5 158.5,63.5 165.5,56.5 158.5,49.5 157.5,49.5 155.5,51.5 155.5,52.5 156.5,53.5 156.5,54.5" fill="#ffcccc" stroke="#d40000"/>
<polygon points="117.5,78.5 117.5,82.5 112.5,82.5 112.5,83.5 113.5,84.5 113.5,85.5 111.5,87.5 110.5,87.5 103.5,80.5 110.5,73.5 111.5,73.5 113.5,75.5 113.5,76.5 112.5,77.5 112.5,78.5" fill="#99ccff" stroke="#005fcc"/>
<polygon points="124.5,97.5 128.5,97.5 128.5,102.5 129.5,102.5 130.5,101.5 131.5,101.5 133.5,103.5 133.5,104.5 126.5,111.5 119.5,104.5 119.5,103.5 121.5,101.5 122.5,101.5 123.5,102.5 124.5,102.5" fill="#ffcccc" stroke="#d40000"/>
<polygon points="117.5,118.5 117.5,122.5 112.5,122.5 112.5,123.5 113.5,124.5 113.5,125.5 111.5,127.5 110.5,127.5 103.5,120.5 110.5,113.5 111.5,113.5 113.5,115.5 113.5,116.5 112.5,117.5 112.5,118.5" fill="#ffcccc" stroke="#d40000"/>
<polygon points="124.5,113.5 128.5,113.5 128.5,118.5 129.5,118.5 130.5,117.5 131.5,117.5 133.5,119.5 133.5,120.5 126.5,127.5 119.5,120.5 119.5,119.5 121.5,117.5 122.5,117.5 123.5,118.5 124.5,118.5" fill="#ffcccc" stroke="#d40000"/>
<polygon points="117.5,142.5 117.5,146.5 112.5,146.5 112.5,147.5 113.5,148.5 113.5,149.5 111.5,151.5 110.5,151.5 103.5,144.5 110.5,137.5 111.5,137.5 113.5,139.5 113.5,140.5 112.5,141.5 112.5,142.5" fill="#99ccff" stroke="#005fcc"/>
<polygon points="140.5,175.5 144.5,175.5 144.5,170.5 145.5,170.5 146.5,171.5 147.5,171.5 149.5,169.5 149.5,168.5 142.5,161.5 135.5,168.5 135.5,169.5 137.5,171.5 138.5,171.5 139.5,170.5 140.5,170.5" fill="#ffcccc" stroke="#d40000"/>
<polygon points="117.5,182.5 117.5,186.5 112.5,186.5 112.5,187.5 113.5,188.5 113.5,189.5 111.5,191.5 110.5,191.5 103.5,184.5 110.5,177.5 111.5,177.5 113.5,179.5 113.5,180.5 112.5,181.5 112.5,182.5" fill="#ffcccc" stroke="#d40000"/>
<polygon points="140.5,191.5 144.5,191.5 144.5,186.5 145.5,186.5 146.5,187.5 147.5,187.5 149.5,185.5 149.5,184.5 142.5,177.5 135.5,184.5 135.5,185.5 137.5,187.5 138.5,187.5 139.5,186.5 140.5,186.5" fill="#ffcccc" stroke="#d40000"/>
<polygon points="124.5,201.5 128.5,201.5 128.5,206.5 129.5,206.5 130.5,205.5 131.5,205.5 133.5,207.5 133.5,208.5 126.5,215.5 119.5,208.5 119.5,207.5 121.5,205.5 122.5,205.5 123.5,206.5 124.5,206.5" fill="#99ccff" stroke="#005fcc"/>
<polygon points="151.5,230.5 151.5,234.5 156.5,234.5 156.5,235.5 155.5,236.5 155.5,237.5 157.5,239.5 158.5,239.5 165.5,232.5 158.5,225.5 157.5,225.5 155.5,227.5 155.5,228.5 156.5,229.5 156.5,230.5" fill="#ffcccc" stroke="#d40000"/>
<polygon points="140.5,255.5 144.5,255.5 144.5,250.5 145.5,250.5 146.5,251.5 147.5,251.5 149.5,249.5 149.5,248.5 142.5,241.5 135.5,248.5 135.5,249.5 137.5,251.5 138.5,251.5 139.5,250.5 140.5,250.5" fill="#ffcccc" stroke="#d40000"/>
<polygon points="151.5,246.5 151.5,250.5 156.5,250.5 156.5,251.5 155.5,252.5 155.5,253.5 157.5,255.5 158.5,255.5 165.5,248.5 158.5,241.5 157.5,241.5 155.5,243.5 155.5,244.5 156.5,245.5 156.5,246.5" fill="#ffcccc" stroke="#d40000"/>
<polygon points="140.5,279.5 144.5,279.5 144.5,274.5 145.5,274.5 146.5,275.5 147.5,275.5 149.5,273.5 149.5,272.5 142.5,265.5 135.5,272.5 135.5,273.5 137.5,275.5 138.5,275.5 139.5,274.5 140.5,274.5" fill="#99ccff" stroke="#005fcc"/>
<polygon points="124.5,289.5 128.5,289.5 128.5,294.5 129.5,294.5 130.5,293.5 131.5,293.5 133.5,295.5 133.5,296.5 126.5,303.5 119.5,296.5 119.5,295.5 121.5,293.5 122.5,293.5 123.5,294.5 124.5,294.5" fill="#ffcccc" stroke="#d40000"/>
<polygon points="103.5,312.5 103.5,360.5 110.5,367.5 111.5,367.5 113.5,365.5 113.5,364.5 112.5,363.5 112.5,362.5 117.5,362.5 117.5,360.5 117.5,312.5" fill="#ccffcc" stroke="#009900"/>
<polygon points="117.5,310.5 117.5,314.5 112.5,314.5 112.5,315.5 113.5,316.5 113.5,317.5 111.5,319.5 110.5,319.5 103.5,312.5 110.5,305.5 111.5,305.5 113.5,307.5 113.5,308.5 112.5,309.5 112.5,310.5" fill="#ffcccc" stroke="#d40000"/>
<polygon points="119.5,312.5 119.5,360.5 126.5,367.5 133.5,360.5 133.5,312.5" fill="#ccffcc" stroke="#009900"/>
<polygon points="124.5,305.5 128.5,305.5 128.5,310.5 129.5,310.5 130.5,309.5 131.5,309.5 133.5,311.5 133.5,312.5 126.5,319.5 119.5,312.5 119.5,311.5 121.5,309.5 122.5,309.5 123.5,310.5 124.5,310.5" fill="#ffcccc" stroke="#d40000"/>
<polygon points="117.5,374.5 117.5,378.5 112.5,378.5 112.5,379.5 113.5,380.5 113.5,381.5 111.5,383.5 110.5,383.5 103.5,376.5 110.5,369.5 111.5,369.5 113.5,371.5 113.5,372.5 112.5,373.5 112.5,374.5" fill="#ffcccc" stroke="#d40000"/>
<polygon points="124.5,385.5 128.5,385.5 128.5,390.5 129.5,390.5 130.5,389.5 131.5,389.5 133.5,391.5 133.5,392.5 126.5,399.5 119.5,392.5 119.5,391.5 121.5,389.5 122.5,389.5 123.5,390.5 124.5,390.5" fill="#ffcccc" stroke="#d40000"/>
<polygon points="117.5,406.5 117.5,410.5 112.5,410.5 112.5,411.5 113.5,412.5 113.5,413.5 111.5,415.5 110.5,415.5 103.5,408.5 110.5,401.5 111.5,401.5 113.5,403.5 113.5,404.5 112.5,405.5 112.5,406.5" fill="#ffcccc" stroke="#d40000"/>
<polygon points="124.5,417.5 128.5,417.5 128.5,422.5 129.5,422.5 130.5,421.5 131.5,421.5 133.5,423.5 133.5,424.5 126.5,431.5 119.5,424.5 119.5,423.5 121.5,421.5 122.5,421.5 123.5,422.5 124.5,422.5" fill="#ffcccc" stroke="#d40000"/>
<polygon points="140.5,447.5 144.5,447.5 144.5,442.5 145.5,442.5 146.5,443.5 147.5,443.5 149.5,441.5 149.5,440.5 142.5,433.5 135.5,440.5 135.5,441.5 137.5,443.5 138.5,443.5 139.5,442.5 140.5,442.5" fill="#ffcccc" stroke="#d40000"/>
<polygon points="151.5,454.5 151.5,458.5 156.5,458.5 156.5,459.5 155.5,460.5 155.5,461.5 157.5,463.5 158.5,463.5 165.5,456.5 158.5,449.5 157.5,449.5 155.5,451.5 155.5,452.5 156.5,453.5 156.5,454.5" fill="#ffcccc" stroke="#d40000"/>
<polygon points="117.5,470.5 117.5,474.5 112.5,474.5 112.5,475.5 113.5,476.5 113.5,477.5 111.5,479.5 110.5,479.5 103.5,472.5 110.5,465.5 111.5,465.5 113.5,467.5 113.5,468.5 112.5,469.5 112.5,470.5" fill="#ffcccc" stroke="#d40000"/>
<polygon points="140.5,495.5 144.5,495.5 144.5,490.5 145.5,490.5 146.5,491.5 147.5,491.5 149.5,489.5 149.5,488.5 142.5,481.5 135.5,488.5 135.5,489.5 137.5,491.5 138.5,491.5 139.5,490.5 140.5,490.5" fill="#ffcccc" stroke="#d40000"/>
<polygon points="124.5,497.5 128.5,497.5 128.5,502.5 129.5,502.5 130.5,501.5 131.5,501.5 133.5,503.5 133.5,504.5 126.5,511.5 119.5,504.5 119.5,503.5 121.5,501.5 122.5,501.5 123.5,502.5 124.5,502.5" fill="#ffcccc" stroke="#d40000"/>
<polygon points="151.5,518.5 151.5,522.5 156.5,522.5 156.5,523.5 155.5,524.5 155.5,525.5 157.5,527.5 158.5,527.5 165.5,520.5 158.5,513.5 157.5,513.5 155.5,515.5 155.5,516.5 156.5,517.5 156.5,518.5" fill="#ffcccc" stroke="#d40000"/>
<polygon points="124.5,529.5 128.5,529.5 128.5,534.5 129.5,534.5 130.5,533.5 131.5,533.5 133.5,535.5 133.5,536.5 126.5,543.5 119.5,536.5 119.5,535.5 121.5,533.5 122.5,533.5 123.5,534.5 124.5,534.5" fill="#ffcccc" stroke="#d40000"/>
<polygon points="151.5,550.5 151.5,554.5 156.5,554.5 156.5,555.5 155.5,556.5 155.5,557.5 157.5,559.5 158.5,559.5 165.5,552.5 158.5,545.5 157.5,545.5 155.5,547.5 155.5,548.5 156.5,549.5 156.5,550.5" fill="#ffcccc" stroke="#d40000"/>
<polygon points="117.5,566.5 117.5,570.5 112.5,570.5 112.5,571.5 113.5,572.5 113.5,573.5 111.5,575.5 110.5,575.5 103.5,568.5 110.5,561.5 111.5,561.5 113.5,563.5 113.5,564.5 112.5,565.5 112.5,566.5" fill="#ffcccc" stroke="#d40000"/>
<polygon points="151.5,582.5 151.5,586.5 156.5,586.5 156.5,587.5 155.5,588.5 155.5,589.5 157.5,591.5 158.5,591.5 165.5,584.5 158.5,577.5 157.5,577.5 155.5,579.5 155.5,580.5 156.5,581.5 156.5,582.5" fill="#ffcccc" stroke="#d40000"/>
<polygon points="140.5,607.5 144.5,607.5 144.5,602.5 145.5,602.5 146.5,603.5 147.5,603.5 149.5,601.5 149.5,600.5 142.5,593.5 135.5,600.5 135.5,601.5 137.5,603.5 138.5,603.5 139.5,602.5 140.5,602.5" fill="#ffcccc" stroke="#d40000"/>
<polygon points="124.5,609.5 128.5,609.5 128.5,614.5 129.5,614.5 130.5,613.5 131.5,613.5 133.5,615.5 133.5,616.5 126.5,623.5 119.5,616.5 119.5,615.5 121.5,613.5 122.5,613.5 123.5,614.5 124.5,614.5" fill="#ffcccc" stroke="#d40000"/>
<polygon points="117.5,630.5 117.5,634.5 112.5,634.5 112.5,635.5 113.5,636.5 113.5,637.5 111.5,639.5 110.5,639.5 103.5,632.5 110.5,625.5 111.5,625.5 113.5,627.5 113.5,628.5 112.5,629.5 112.5,630.5" fill="#ffcccc" stroke="#d40000"/>
<polygon points="140.5,655.5 144.5,655.5 144.5,650.5 145.5,650.5 146.5,651.5 147.5,651.5 149.5,649.5 149.5,648.5 142.5,641.5 135.5,648.5 135.5,649.5 137.5,651.5 138.5,651.5 139.5,650.5 140.5,650.5" fill="#ffcccc" stroke="#d40000"/>
<polygon points="117.5,662.5 117.5,666.5 112.5,666.5 112.5,667.5 113.5,668.5 113.5,669.5 111.5,671.5 110.5,671.5 103.5,664.5 110.5,657.5 111.5,657.5 113.5,659.5 113.5,660.5 112.5,661.5 112.5,662.5" fill="#ffcccc" stroke="#d40000"/>
<polygon points="140.5,687.5 144.5,687.5 144.5,682.5 145.5,682.5 146.5,683.5 147.5,683.5 149.5,681.5 149.5,680.5 142.5,673.5 135.5,680.5 135.5,681.5 137.5,683.5 138.5,683.5 139.5,682.5 140.5,682.5" fill="#ffcccc" stroke="#d40000"/>
<polygon points="124.5,689.5 128.5,689.5 128.5,694.5 129.5,694.5 130.5,693.5 131.5,693.5 133.5,695.5 133.5,696.5 126.5,703.5 119.5,696.5 119.5,695.5 121.5,693.5 122.5,693.5 123.5,694.5 124.5,694.5" fill="#ffcccc" stroke="#d40000"/>
<polygon points="151.5,710.5 151.5,714.5 156.5,714.5 156.5,715.5 155.5,716.5 155.5,717.5 157.5,719.5 158.5,719.5 165.5,712.5 158.5,705.5 157.5,705.5 155.5,707.5 155.5,708.5 156.5,709.5 156.5,710.5" fill="#ffcccc" stroke="#d40000"/>
<polygon points="117.5,726.5 117.5,730.5 112.5,730.5 112.5,731.5 113.5,732.5 113.5,733.5 111.5,735.5 110.5,735.5 103.5,728.5 110.5,721.5 111.5,721.5 113.5,723.5 113.5,724.5 112.5,725.5 112.5,726.5" fill="#ffcccc" stroke="#d40000"/>
<polygon points="151.5,742.5 151.5,746.5 156.5,746.5 156.5,747.5 155.5,748.5 155.5,749.5 157.5,751.5 158.5,751.5 165.5,744.5 158.5,737.5 157.5,737.5 155.5,739.5 155.5,740.5 156.5,741.5 156.5,742.5" fill="#ffcccc" stroke="#d40000"/>
<polygon points="140.5,767.5 144.5,767.5 144.5,762.5 145.5,762.5 146.5,763.5 147.5,763.5 149.5,761.5 149.5,760.5 142.5,753.5 135.5,760.5 135.5,761.5 137.5,763.5 138.5,763.5 139.5,762.5 140.5,762.5" fill="#ffcccc" stroke="#d40000"/>
<polygon points="124.5,769.5 128.5,769.5 128.5,774.5 129.5,774.5 130.5,773.5 131.5,773.5 133.5,775.5 133.5,776.5 126.5,783.5 119.5,776.5 119.5,775.5 121.5,773.5 122.5,773.5 123.5,774.5 124.5,774.5" fill="#ffcccc" stroke="#d40000"/>
<polygon points="140.5,799.5 144.5,799.5 144.5,794.5 145.5,794.5 146.5,795.5 147.5,795.5 149.5,793.5 149.5,792.5 142.5,785.5 135.5,792.5 135.5,793.5 137.5,795.5 138.5,795.5 139.5,794.5 140.5,794.5" fill="#ffcccc" stroke="#d40000"/>
<polygon points="124.5,801.5 128.5,801.5 128.5,806.5 129.5,806.5 130.5,805.5 131.5,805.5 133.5,807.5 133.5,808.5 126.5,815.5 119.5,808.5 119.5,807.5 121.5,805.5 122.5,805.5 123.5,806.5 124.5,806.5" fill="#ffcccc" stroke="#d40000"/>
<polygon points="197.5,54.5 197.5,58.5 192.5,58.5 192.5,59.5 193.5,60.5 193.5,61.5 191.5,63.5 190.5,63.5 183.5,56.5 190.5,49.5 191.5,49.5 193.5,51.5 193.5,52.5 192.5,53.5 192.5,54.5" fill="#ffcccc" stroke="#d40000"/>
<polygon points="204.5,65.5 208.5,65.5 208.5,70.5 209.5,70.5 210.5,69.5 211.5,69.5 213.5,71.5 213.5,72.5 206.5,79.5 199.5,72.5 199.5,71.5 201.5,69.5 202.5,69.5 203.5,70.5 204.5,70.5" fill="#ffcccc" stroke="#d40000"/>
<polygon points="220.5,95.5 224.5,95.5 224.5,90.5 225.5,90.5 226.5,91.5 227.5,91.5 229.5,89.5 229.5,88.5 222.5,81.5 215.5,88.5 215.5,89.5 217.5,91.5 218.5,91.5 219.5,90.5 220.5,90.5" fill="#ffcccc" stroke="#d40000"/>
<polygon points="231.5,102.5 231.5,106.5 236.5,106.5 236.5,107.5 235.5,108.5 235.5,109.5 237.5,111.5 238.5,111.5 245.5,104.5 238.5,97.5 237.5,97.5 235.5,99.5 235.5,100.5 236.5,101.5 236.5,102.5" fill="#ffcccc" stroke="#d40000"/>
<polygon points="197.5,118.5 197.5,122.5 192.5,122.5 192.5,123.5 193.5,124.5 193.5,125.5 191.5,127.5 190.5,127.5 183.5,120.5 190.5,113.5 191.5,113.5 193.5,115.5 193.5,116.5 192.5,117.5 192.5,118.5" fill="#ffcccc" stroke="#d40000"/>
<polygon points="220.5,143.5 224.5,143.5 224.5,138.5 225.5,138.5 226.5,139.5 227.5,139.5 229.5,137.5 229.5,136.5 222.5,129.5 215.5,136.5 215.5,137.5 217.5,139.5 218.5,139.5 219.5,138.5 220.5,138.5" fill="#ffcccc" stroke="#d40000"/>
<polygon points="197.5,150.5 197.5,154.5 192.5,154.5 192.5,155.5 193.5,156.5 193.5,157.5 191.5,159.5 190.5,159.5 183.5,152.5 190.5,145.5 191.5,145.5 193.5,147.5 193.5,148.5 192.5,149.5 192.5,150.5" fill="#ffcccc" stroke="#d40000"/>
<polygon points="220.5,175.5 224.5,175.5 224.5,170.5 225.5,170.5 226.5,171.5 227.5,171.5 229.5,169.5 229.5,168.5 222.5,161.5 215.5,168.5 215.5,169.5 217.5,171.5 218.5,171.5 219.5,170.5 220.5,170.5" fill="#ffcccc" stroke="#d40000"/>
<polygon points="204.5,177.5 208.5,177.5 208.5,182.5 209.5,182.5 210.5,181.5 211.5,181.5 213.5,183.5 213.5,184.5 206.5,191.5 199.5,184.5 199.5,183.5 201.5,181.5 202.5,181.5 203.5,182.5 204.5,182.5" fill="#ffcccc" stroke="#d40000"/>
<polygon points="231.5,198.5 231.5,202.5 236.5,202.5 236.5,203.5 235.5,204.5 235.5,205.5 237.5,207.5 238.5,207.5 245.5,200.5 238.5,193.5 237.5,193.5 235.5,195.5 235.5,196.5 236.5,197.5 236.5,198.5" fill="#ffcccc" stroke="#d40000"/>
<polygon points="197.5,214.5 197.5,218.5 192.5,218.5 192.5,219.5 193.5,220.5 193.5,221.5 191.5,223.5 190.5,223.5 183.5,216.5 190.5,209.5 191.5,209.5 193.5,211.5 193.5,212.5 192.5,213.5 192.5,214.5" fill="#ffcccc" stroke="#d40000"/>
<polygon points="231.5,230.5 231.5,234.5 236.5,234.5 236.5,235.5 235.5,236.5 235.5,237.5 237.5,239.5 238.5,239.5 245.5,232.5 238.5,225.5 237.5,225.5 235.5,227.5 235.5,228.5 236.5,229.5 236.5,230.5" fill="#ffcccc" stroke="#d40000"/>
<polygon points="220.5,255.5 224.5,255.5 224.5,250.5 225.5,250.5 226.5,251.5 227.5,251.5 229.5,249.5 229.5,248.5 222.5,241.5 215.5,248.5 215.5,249.5 217.5,251.5 218.5,251.5 219.5,250.5 220.5,250.5" fill="#ffcccc" stroke="#d40000"/>
<polygon points="204.5,257.5 208.5,257.5 208.5,262.5 209.5,262.5 210.5,261.5 211.5,261.5 213.5,263.5 213.5,264.5 206.5,271.5 199.5,264.5 199.5,263.5 201.5,261.5 202.5,261.5 203.5,262.5 204.5,262.5" fill="#ffcccc" stroke="#d40000"/>
<polygon points="220.5,287.5 224.5,287.5 224.5,282.5 225.5,282.5 226.5,283.5 227.5,283.5 229.5,281.5 229.5,280.5 222.5,273.5 215.5,280.5 215.5,281.5 217.5,283.5 218.5,283.5 219.5,282.5 220.5,282.5" fill="#ffcccc" stroke="#d40000"/>
<polygon points="204.5,289.5 208.5,289.5 208.5,294.5 209.5,294.5 210.5,293.5 211.5,293.5 213.5,295.5 213.5,296.5 206.5,303.5 199.5,296.5 199.5,295.5 201.5,293.5 202.5,293.5 203.5,294.5 204.5,294.5" fill="#ffcccc" stroke="#d40000"/>
<polygon points="220.5,319.5 224.5,319.5 224.5,314.5 225.5,314.5 226.5,315.5 227.5,315.5 229.5,313.5 229.5,312.5 222.5,305.5 215.5,312.5 215.5,313.5 217.5,315.5 218.5,315.5 219.5,314.5 220.5,314.5" fill="#ffcccc" stroke="#d40000"/>
<polygon points="231.5,326.5 231.5,330.5 236.5,330.5 236.5,331.5 235.5,332.5 235.5,333.5 237.5,335.5 238.5,335.5 245.5,328.5 238.5,321.5 237.5,321.5 235.5,323.5 235.5,324.5 236.5,325.5 236.5,326.5" fill="#ffcccc" stroke="#d40000"/>
<polygon points="197.5,342.5 197.5,346.5 192.5,346.5 192.5,347.5 193.5,348.5 193.5,349.5 191.5,351.5 190.5,351.5 183.5,344.5 190.5,337.5 191.5,337.5 193.5,339.5 193.5,340.5 192.5,341.5 192.5,342.5" fill="#ffcccc" stroke="#d40000"/>
<polygon points="231.5,358.5 231.5,362.5 236.5,362.5 236.5,363.5 235.5,364.5 235.5,365.5 237.5,367.5 238.5,367.5 245.5,360.5 238.5,353.5 237.5,353.5 235.5,355.5 235.5,356.5 236.5,357.5 236.5,358.5" fill="#ffcccc" stroke="#d40000"/>
<polygon points="204.5,369.5 208.5,369.5 208.5,374.5 209.5,374.5 210.5,373.5 211.5,373.5 213.5,375.5 213.5,376.5 206.5,383.5 199.5,376.5 199.5,375.5 201.5,373.5 202.5,373.5 203.5,374.5 204.5,374.5" fill="#ffcccc" stroke="#d40000"/>
<polygon points="220.5,399.5 224.5,399.5 224.5,394.5 225.5,394.5 226.5,395.5 227.5,395.5 229.5,393.5 229.5,392.5 222.5,385.5 215.5,392.5 215.5,393.5 217.5,395.5 218.5,395.5 219.5,394.5 220.5,394.5" fill="#ffcccc" stroke="#d40000"/>
<polygon points="183.5,408.5 183.5,424.5 190.5,431.5 191.5,431.5 193.5,429.5 193.5,428.5 192.5,427.5 192.5,426.5 197.5,426.5 197.5,424.5 197.5,408.5" fill="#ccffcc" stroke="#009900"/>
<polygon points="197.5,406.5 197.5,410.5 192.5,410.5 192.5,411.5 193.5,412.5 193.5,413.5 191.5,415.5 190.5,415.5 183.5,408.5 190.5,401.5 191.5,401.5 193.5,403.5 193.5,404.5 192.5,405.5 192.5,406.5" fill="#ffcccc" stroke="#d40000"/>
<polygon points="231.5,438.5 231.5,442.5 236.5,442.5 236.5,443.5 235.5,444.5 235.5,445.5 237.5,447.5 238.5,447.5 245.5,440.5 238.5,433.5 237.5,433.5 235.5,435.5 235.5,436.5 236.5,437.5 236.5,438.5" fill="#ffcccc" stroke="#d40000"/>
<polygon points="204.5,449.5 208.5,449.5 208.5,454.5 209.5,454.5 210.5,453.5 211.5,453.5 213.5,455.5 213.5,456.5 206.5,463.5 199.5,456.5 199.5,455.5 201.5,453.5 202.5,453.5 203.5,454.5 204.5,454.5" fill="#ffcccc" stroke="#d40000"/>
<polygon points="231.5,472.5 231.5,488.5 231.5,490.5 236.5,490.5 236.5,491.5 235.5,492.5 235.5,493.5 237.5,495.5 238.5,495.5 245.5,488.5 245.5,472.5" fill="#ccffcc" stroke="#009900"/>
<polygon points="231.5,470.5 231.5,474.5 236.5,474.5 236.5,475.5 235.5,476.5 235.5,477.5 237.5,479.5 238.5,479.5 245.5,472.5 238.5,465.5 237.5,465.5 235.5,467.5 235.5,468.5 236.5,469.5 236.5,470.5" fill="#ffcccc" stroke="#d40000"/>
<polygon points="197.5,502.5 197.5,506.5 192.5,506.5 192.5,507.5 193.5,508.5 193.5,509.5 191.5,511.5 190.5,511.5 183.5,504.5 190.5,497.5 191.5,497.5 193.5,499.5 193.5,500.5 192.5,501.5 192.5,502.5" fill="#ffcccc" stroke="#d40000"/>
<polygon points="204.5,513.5 208.5,513.5 208.5,518.5 209.5,518.5 210.5,517.5 211.5,517.5 213.5,519.5 213.5,520.5 206.5,527.5 199.5,520.5 199.5,519.5 201.5,517.5 202.5,517.5 203.5,518.5 204.5,518.5" fill="#ffcccc" stroke="#d40000"/>
<polygon points="220.5,543.5 224.5,543.5 224.5,538.5 225.5,538.5 226.5,539.5 227.5,539.5 229.5,537.5 229.5,536.5 222.5,529.5 215.5,536.5 215.5,537.5 217.5,539.5 218.5,539.5 219.5,538.5 220.5,538.5" fill="#ffcccc" stroke="#d40000"/>
<polygon points="231.5,550.5 231.5,554.5 236.5,554.5 236.5,555.5 235.5,556.5 235.5,557.5 237.5,559.5 238.5,559.5 245.5,552.5 238.5,545.5 237.5,545.5 235.5,547.5 235.5,548.5 236.5,549.5 236.5,550.5" fill="#ffcccc" stroke="#d40000"/>
<polygon points="197.5,582.5 197.5,586.5 192.5,586.5 192.5,587.5 193.5,588.5 193.5,589.5 191.5,591.5 190.5,591.5 183.5,584.5 190.5,577.5 191.5,577.5 193.5,579.5 193.5,580.5 192.5,581.5 192.5,582.5" fill="#ffcccc" stroke="#d40000"/>
<polygon points="231.5,598.5 231.5,602.5 236.5,602.5 236.5,603.5 235.5,604.5 235.5,605.5 237.5,607.5 238.5,607.5 245.5,600.5 238.5,593.5 237.5,593.5 235.5,595.5 235.5,596.5 236.5,597.5 236.5,598.5" fill="#ffcccc" stroke="#d40000"/>
<polygon points="204.5,625.5 208.5,625.5 208.5,630.5 209.5,630.5 210.5,629.5 211.5,629.5 213.5,631.5 213.5,632.5 206.5,639.5 199.5,632.5 199.5,631.5 201.5,629.5 202.5,629.5 203.5,630.5 204.5,630.5" fill="#ffcccc" stroke="#d40000"/>
<polygon points="220.5,655.5 224.5,655.5 224.5,650.5 225.5,650.5 226.5,651.5 227.5,651.5 229.5,649.5 229.5,648.5 222.5,641.5 215.5,648.5 215.5,649.5 217.5,651.5 218.5,651.5 219.5,650.5 220.5,650.5" fill="#ffcccc" stroke="#d40000"/>
<polygon points="204.5,657.5 208.5,657.5 208.5,662.5 209.5,662.5 210.5,661.5 211.5,661.5 213.5,663.5 213.5,664.5 206.5,671.5 199.5,664.5 199.5,663.5 201.5,661.5 202.5,661.5 203.5,662.5 204.5,662.5" fill="#ffcccc" stroke="#d40000"/>
<polygon points="220.5,687.5 224.5,687.5 224.5,682.5 225.5,682.5 226.5,683.5 227.5,683.5 229.5,681.5 229.5,680.5 222.5,673.5 215.5,680.5 215.5,681.5 217.5,683.5 218.5,683.5 219.5,682.5 220.5,682.5" fill="#ffcccc" stroke="#d40000"/>
<polygon points="197.5,694.5 197.5,698.5 192.5,698.5 192.5,699.5 193.5,700.5 193.5,701.5 191.5,703.5 190.5,703.5 183.5,696.5 190.5,689.5 191.5,689.5 193.5,691.5 193.5,692.5 192.5,693.5 192.5,694.5" fill="#ffcccc" stroke="#d40000"/>
<polygon points="231.5,710.5 231.5,714.5 236.5,714.5 236.5,715.5 235.5,716.5 235.5,717.5 237.5,719.5 238.5,719.5 245.5,712.5 238.5,705.5 237.5,705.5 235.5,707.5 235.5,708.5 236.5,709.5 236.5,710.5" fill="#ffcccc" stroke="#d40000"/>
<polygon points="204.5,721.5 208.5,721.5 208.5,726.5 209.5,726.5 210.5,725.5 211.5,725.5 213.5,727.5 213.5,728.5 206.5,735.5 199.5,728.5 199.5,727.5 201.5,725.5 202.5,725.5 203.5,726.5 204.5,726.5" fill="#ffcccc" stroke="#d40000"/>
<polygon points="231.5,742.5 231.5,746.5 236.5,746.5 236.5,747.5 235.5,748.5 235.5,749.5 237.5,751.5 238.5,751.5 245.5,744.5 238.5,737.5 237.5,737.5 235.5,739.5 235.5,740.5 236.5,741.5 236.5,742.5" fill="#ffcccc" stroke="#d40000"/>
<polygon points="197.5,758.5 197.5,762.5 192.5,762.5 192.5,763.5 193.5,764.5 193.5,765.5 191.5,767.5 190.5,767.5 183.5,760.5 190.5,753.5 191.5,753.5 193.5,755.5 193.5,756.5 192.5,757.5 192.5,758.5" fill="#ffcccc" stroke="#d40000"/>
<polygon points="204.5,769.5 208.5,769.5 208.5,774.5 209.5,774.5 210.5,773.5 211.5,773.5 213.5,775.5 213.5,776.5 206.5,783.5 199.5,776.5 199.5,775.5 201.5,773.5 202.5,773.5 203.5,774.5 204.5,774.5" fill="#ffcccc" stroke="#d40000"/>
<polygon points="197.5,790.5 197.5,794.5 192.5,794.5 192.5,795.5 193.5,796.5 193.5,797.5 191.5,799.5 190.5,799.5 183.5,792.5 190.5,785.5 191.5,785.5 193.5,787.5 193.5,788.5 192.5,789.5 192.5,790.5" fill="#ffcccc" stroke="#d40000"/>
<polygon points="204.5,801.5 208.5,801.5 208.5,806.5 209.5,806.5 210.5,805.5 211.5,805.5 213.5,807.5 213.5,808.5 206.5,815.5 199.5,808.5 199.5,807.5 201.5,805.5 202.5,805.5 203.5,806.5 204.5,806.5" fill="#ffcccc" stroke="#d40000"/>
<polygon points="300.5,63.5 304.5,63.5 304.5,58.5 305.5,58.5 306.5,59.5 307.5,59.5 309.5,57.5 309.5,56.5 302.5,49.5 295.5,56.5 295.5,57.5 297.5,59.5 298.5,59.5 299.5,58.5 300.5,58.5" fill="#ffcccc" stroke="#d40000"/>
<polygon points="311.5,70.5 311.5,74.5 316.5,74.5 316.5,75.5 315.5,76.5 315.5,77.5 317.5,79.5 318.5,79.5 325.5,72.5 318.5,65.5 317.5,65.5 315.5,67.5 315.5,68.5 316.5,69.5 316.5,70.5" fill="#ffcccc" stroke="#d40000"/>
<polygon points="277.5,86.5 277.5,90.5 272.5,90.5 272.5,91.5 273.5,92.5 273.5,93.5 271.5,95.5 270.5,95.5 263.5,88.5 270.5,81.5 271.5,81.5 273.5,83.5 273.5,84.5 272.5,85.5 272.5,86.5" fill="#ffcccc" stroke="#d40000"/>
<polygon points="300.5,111.5 304.5,111.5 304.5,106.5 305.5,106.5 306.5,107.5 307.5,107.5 309.5,105.5 309.5,104.5 302.5,97.5 295.5,104.5 295.5,105.5 297.5,107.5 298.5,107.5 299.5,106.5 300.5,106.5" fill="#ffcccc" stroke="#d40000"/>
<polygon points="284.5,113.5 288.5,113.5 288.5,118.5 289.5,118.5 290.5,117.5 291.5,117.5 293.5,119.5 293.5,120.5 286.5,127.5 279.5,120.5 279.5,119.5 281.5,117.5 282.5,117.5 283.5,118.5 284.5,118.5" fill="#ffcccc" stroke="#d40000"/>
<polygon points="300.5,143.5 304.5,143.5 304.5,138.5 305.5,138.5 306.5,139.5 307.5,139.5 309.5,137.5 309.5,136.5 302.5,129.5 295.5,136.5 295.5,137.5 297.5,139.5 298.5,139.5 299.5,138.5 300.5,138.5" fill="#ffcccc" stroke="#d40000"/>
<polygon points="284.5,145.5 288.5,145.5 288.5,150.5 289.5,150.5 290.5,149.5 291.5,149.5 293.5,151.5 293.5,152.5 286.5,159.5 279.5,152.5 279.5,151.5 281.5,149.5 282.5,149.5 283.5,150.5 284.5,150.5" fill="#ffcccc" stroke="#d40000"/>
<polygon points="300.5,175.5 304.5,175.5 304.5,170.5 305.5,170.5 306.5,171.5 307.5,171.5 309.5,169.5 309.5,168.5 302.5,161.5 295.5,168.5 295.5,169.5 297.5,171.5 298.5,171.5 299.5,170.5 300.5,170.5" fill="#ffcccc" stroke="#d40000"/>
<polygon points="277.5,182.5 277.5,186.5 272.5,186.5 272.5,187.5 273.5,188.5 273.5,189.5 271.5,191.5 270.5,191.5 263.5,184.5 270.5,177.5 271.5,177.5 273.5,179.5 273.5,180.5 272.5,181.5 272.5,182.5" fill="#ffcccc" stroke="#d40000"/>
<polygon points="311.5,198.5 311.5,202.5 316.5,202.5 316.5,203.5 315.5,204.5 315.5,205.5 317.5,207.5 318.5,207.5 325.5,200.5 318.5,193.5 317.5,193.5 315.5,195.5 315.5,196.5 316.5,197.5 316.5,198.5" fill="#ffcccc" stroke="#d40000"/>
<polygon points="284.5,209.5 288.5,209.5 288.5,214.5 289.5,214.5 290.5,213.5 291.5,213.5 293.5,215.5 293.5,216.5 286.5,223.5 279.5,216.5 279.5,215.5 281.5,213.5 282.5,213.5 283.5,214.5 284.5,214.5" fill="#ffcccc" stroke="#d40000"/>
<polygon points="311.5,230.5 311.5,234.5 316.5,234.5 316.5,235.5 315.5,236.5 315.5,237.5 317.5,239.5 318.5,239.5 325.5,232.5 318.5,225.5 317.5,225.5 315.5,227.5 315.5,228.5 316.5,229.5 316.5,230.5" fill="#ffcccc" stroke="#d40000"/>
<polygon points="277.5,246.5 277.5,250.5 272.5,250.5 272.5,251.5 273.5,252.5 273.5,253.5 271.5,255.5 270.5,255.5 263.5,248.5 270.5,241.5 271.5,241.5 273.5,243.5 273.5,244.5 272.5,245.5 272.5,246.5" fill="#ffcccc" stroke="#d40000"/>
<polygon points="284.5,257.5 288.5,257.5 288.5,262.5 289.5,262.5 290.5,261.5 291.5,261.5 293.5,263.5 293.5,264.5 286.5,271.5 279.5,264.5 279.5,263.5 281.5,261.5 282.5,261.5 283.5,262.5 284.5,262.5" fill="#ffcccc" stroke="#d40000"/>
<polygon points="277.5,278.5 277.5,282.5 272.5,282.5 272.5,283.5 273.5,284.5 273.5,285.5 271.5,287.5 270.5,287.5 263.5,280.5 270.5,273.5 271.5,273.5 273.5,275.5 273.5,276.5 272.5,277.5 272.5,278.5" fill="#ffcccc" stroke="#d40000"/>
<polygon points="284.5,289.5 288.5,289.5 288.5,294.5 289.5,294.5 290.5,293.5 291.5,293.5 293.5,295.5 293.5,296.5 286.5,303.5 279.5,296.5 279.5,295.5 281.5,293.5 282.5,293.5 283.5,294.5 284.5,294.5" fill="#ffcccc" stroke="#d40000"/>
<polygon points="300.5,319.5 304.5,319.5 304.5,314.5 305.5,314.5 306.5,315.5 307.5,315.5 309.5,313.5 309.5,312.5 302.5,305.5 295.5,312.5 295.5,313.5 297.5,315.5 298.5,315.5 299.5,314.5 300.5,314.5" fill="#ffcccc" stroke="#d40000"/>
<polygon points="311.5,326.5 311.5,330.5 316.5,330.5 316.5,331.5 315.5,332.5 315.5,333.5 317.5,335.5 318.5,335.5 325.5,328.5 318.5,321.5 317.5,321.5 315.5,323.5 315.5,324.5 316.5,325.5 316.5,326.5" fill="#ffcccc" stroke="#d40000"/>
<polygon points="277.5,342.5 277.5,346.5 272.5,346.5 272.5,347.5 273.5,348.5 273.5,349.5 271.5,351.5 270.5,351.5 263.5,344.5 270.5,337.5 271.5,337.5 273.5,339.5 273.5,340.5 272.5,341.5 272.5,342.5" fill="#ffcccc" stroke="#d40000"/>
<polygon points="300.5,367.5 304.5,367.5 304.5,362.5 305.5,362.5 306.5,363.5 307.5,363.5 309.5,361.5 309.5,360.5 302.5,353.5 295.5,360.5 295.5,361.5 297.5,363.5 298.5,363.5 299.5,362.5 300.5,362.5" fill="#ffcccc" stroke="#d40000"/>
<polygon points="284.5,369.5 288.5,369.5 288.5,374.5 289.5,374.5 290.5,373.5 291.5,373.5 293.5,375.5 293.5,376.5 286.5,383.5 279.5,376.5 279.5,375.5 281.5,373.5 282.5,373.5 283.5,374.5 284.5,374.5" fill="#ffcccc" stroke="#d40000"/>
<polygon points="311.5,390.5 311.5,394.5 316.5,394.5 316.5,395.5 315.5,396.5 315.5,397.5 317.5,399.5 318.5,399.5 325.5,392.5 318.5,385.5 317.5,385.5 315.5,387.5 315.5,388.5 316.5,389.5 316.5,390.5" fill="#ffcccc" stroke="#d40000"/>
<polygon points="284.5,401.5 288.5,401.5 288.5,406.5 289.5,406.5 290.5,405.5 291.5,405.5 293.5,407.5 293.5,408.5 286.5,415.5 279.5,408.5 279.5,407.5 281.5,405.5 282.5,405.5 283.5,406.5 284.5,406.5" fill="#ffcccc" stroke="#d40000"/>
<polygon points="311.5,422.5 311.5,426.5 316.5,426.5 316.5,427.5 315.5,428.5 315.5,429.5 317.5,431.5 318.5,431.5 325.5,424.5 318.5,417.5 317.5,417.5 315.5,419.5 315.5,420.5 316.5,421.5 316.5,422.5" fill="#ffcccc" stroke="#d40000"/>
<polygon points="277.5,438.5 277.5,442.5 272.5,442.5 272.5,443.5 273.5,444.5 273.5,445.5 271.5,447.5 270.5,447.5 263.5,440.5 270.5,433.5 271.5,433.5 273.5,435.5 273.5,436.5 272.5,437.5 272.5,438.5" fill="#ffcccc" stroke="#d40000"/>
<polygon points="284.5,449.5 288.5,449.5 288.5,454.5 289.5,454.5 290.5,453.5 291.5,453.5 293.5,455.5 293.5,456.5 286.5,463.5 279.5,456.5 279.5,455.5 281.5,453.5 282.5,453.5 283.5,454.5 284.5,454.5" fill="#ffcccc" stroke="#d40000"/>
<polygon points="300.5,479.5 304.5,479.5 304.5,474.5 305.5,474.5 306.5,475.5 307.5,475.5 309.5,473.5 309.5,472.5 302.5,465.5 295.5,472.5 295.5,473.5 297.5,475.5 298.5,475.5 299.5,474.5 300.5,474.5" fill="#ffcccc" stroke="#d40000"/>
<polygon points="284.5,481.5 288.5,481.5 288.5,486.5 289.5,486.5 290.5,485.5 291.5,485.5 293.5,487.5 293.5,488.5 286.5,495.5 279.5,488.5 279.5,487.5 281.5,485.5 282.5,485.5 283.5,486.5 284.5,486.5" fill="#ffcccc" stroke="#d40000"/>
<polygon points="277.5,502.5 277.5,506.5 272.5,506.5 272.5,507.5 273.5,508.5 273.5,509.5 271.5,511.5 270.5,511.5 263.5,504.5 270.5,497.5 271.5,497.5 273.5,499.5 273.5,500.5 272.5,501.5 272.5,502.5" fill="#ffcccc" stroke="#d40000"/>
<polygon points="300.5,527.5 304.5,527.5 304.5,522.5 305.5,522.5 306.5,523.5 307.5,523.5 309.5,521.5 309.5,520.5 302.5,513.5 295.5,520.5 295.5,521.5 297.5,523.5 298.5,523.5 299.5,522.5 300.5,522.5" fill="#ffcccc" stroke="#d40000"/>
<polygon points="277.5,534.5 277.5,538.5 272.5,538.5 272.5,539.5 273.5,540.5 273.5,541.5 271.5,543.5 270.5,543.5 263.5,536.5 270.5,529.5 271.5,529.5 273.5,531.5 273.5,532.5 272.5,533.5 272.5,534.5" fill="#ffcccc" stroke="#d40000"/>
<polygon points="300.5,559.5 304.5,559.5 304.5,554.5 305.5,554.5 306.5,555.5 307.5,555.5 309.5,553.5 309.5,552.5 302.5,545.5 295.5,552.5 295.5,553.5 297.5,555.5 298.5,555.5 299.5,554.5 300.5,554.5" fill="#ffcccc" stroke="#d40000"/>
<polygon points="277.5,566.5 277.5,570.5 272.5,570.5 272.5,571.5 273.5,572.5 273.5,573.5 271.5,575.5 270.5,575.5 263.5,568.5 270.5,561.5 271.5,561.5 273.5,563.5 273.5,564.5 272.5,565.5 272.5,566.5" fill="#ffcccc" stroke="#d40000"/>
<polygon points="311.5,582.5 311.5,586.5 316.5,586.5 316.5,587.5 315.5,588.5 315.5,589.5 317.5,591.5 318.5,591.5 325.5,584.5 318.5,577.5 317.5,577.5 315.5,579.5 315.5,580.5 316.5,581.5 316.5,582.5" fill="#ffcccc" stroke="#d40000"/>
<polygon points="284.5,593.5 288.5,593.5 288.5,598.5 289.5,598.5 290.5,597.5 291.5,597.5 293.5,599.5 293.5,600.5 286.5,607.5 279.5,600.5 279.5,599.5 281.5,597.5 282.5,597.5 283.5,598.5 284.5,598.5" fill="#ffcccc" stroke="#d40000"/>
<polygon points="311.5,614.5 311.5,618.5 316.5,618.5 316.5,619.5 315.5,620.5 315.5,621.5 317.5,623.5 318.5,623.5 325.5,616.5 318.5,609.5 317.5,609.5 315.5,611.5 315.5,612.5 316.5,613.5 316.5,614.5" fill="#ffcccc" stroke="#d40000"/>
<polygon points="300.5,639.5 304.5,639.5 304.5,634.5 305.5,634.5 306.5,635.5 307.5,635.5 309.5,633.5 309.5,632.5 302.5,625.5 295.5,632.5 295.5,633.5 297.5,635.5 298.5,635.5 299.5,634.5 300.5,634.5" fill="#ffcccc" stroke="#d40000"/>
<polygon points="284.5,641.5 288.5,641.5 288.5,646.5 289.5,646.5 290.5,645.5 291.5,645.5 293.5,647.5 293.5,648.5 286.5,655.5 279.5,648.5 279.5,647.5 281.5,645.5 282.5,645.5 283.5,646.5 284.5,646.5" fill="#ffcccc" stroke="#d40000"/>
<polygon points="263.5,664.5 263.5,680.5 270.5,687.5 271.5,687.5 273.5,685.5 273.5,684.5 272.5,683.5 272.5,682.5 277.5,682.5 277.5,680.5 277.5,664.5" fill="#ccffcc" stroke="#009900"/>
<polygon points="277.5,662.5 277.5,666.5 272.5,666.5 272.5,667.5 273.5,668.5 273.5,669.5 271.5,671.5 270.5,671.5 263.5,664.5 270.5,657.5 271.5,657.5 273.5,659.5 273.5,660.5 272.5,661.5 272.5,662.5" fill="#ffcccc" stroke="#d40000"/>
<polygon points="284.5,689.5 288.5,689.5 288.5,694.5 289.5,694.5 290.5,693.5 291.5,693.5 293.5,695.5 293.5,696.5 286.5,703.5 279.5,696.5 279.5,695.5 281.5,693.5 282.5,693.5 283.5,694.5 284.5,694.5" fill="#ffcccc" stroke="#d40000"/>
<polygon points="300.5,719.5 304.5,719.5 304.5,714.5 305.5,714.5 306.5,715.5 307.5,715.5 309.5,713.5 309.5,712.5 302.5,705.5 295.5,712.5 295.5,713.5 297.5,715.5 298.5,715.5 299.5,714.5 300.5,714.5" fill="#ffcccc" stroke="#d40000"/>
<polygon points="311.5,728.5 311.5,744.5 311.5,746.5 316.5,746.5 316.5,747.5 315.5,748.5 315.5,749.5 317.5,751.5 318.5,751.5 325.5,744.5 325.5,728.5" fill="#ccffcc" stroke="#009900"/>
<polygon points="311.5,726.5 311.5,730.5 316.5,730.5 316.5,731.5 315.5,732.5 315.5,733.5 317.5,735.5 318.5,735.5 325.5,728.5 318.5,721.5 317.5,721.5 315.5,723.5 315.5,724.5 316.5,725.5 316.5,726.5" fill="#ffcccc" stroke="#d40000"/>
<polygon points="277.5,758.5 277.5,762.5 272.5,762.5 272.5,763.5 273.5,764.5 273.5,765.5 271.5,767.5 270.5,767.5 263.5,760.5 270.5,753.5 271.5,753.5 273.5,755.5 273.5,756.5 272.5,757.5 272.5,758.5" fill="#ffcccc" stroke="#d40000"/>
<polygon points="300.5,783.5 304.5,783.5 304.5,778.5 305.5,778.5 306.5,779.5 307.5,779.5 309.5,777.5 309.5,776.5 302.5,769.5 295.5,776.5 295.5,777.5 297.5,779.5 298.5,779.5 299.5,778.5 300.5,778.5" fill="#ffcccc" stroke="#d40000"/>
<polygon points="284.5,785.5 288.5,785.5 288.5,790.5 289.5,790.5 290.5,789.5 291.5,789.5 293.5,791.5 293.5,792.5 286.5,799.5 279.5,792.5 279.5,791.5 281.5,789.5 282.5,789.5 283.5,790.5 284.5,790.5" fill="#ffcccc" stroke="#d40000"/>
<polygon points="311.5,806.5 311.5,810.5 316.5,810.5 316.5,811.5 315.5,812.5 315.5,813.5 317.5,815.5 318.5,815.5 325.5,808.5 318.5,801.5 317.5,801.5 315.5,803.5 315.5,804.5 316.5,805.5 316.5,806.5" fill="#ffcccc" stroke="#d40000"/>
<polygon points="357.5,70.5 357.5,74.5 352.5,74.5 352.5,75.5 353.5,76.5 353.5,77.5 351.5,79.5 350.5,79.5 343.5,72.5 350.5,65.5 351.5,65.5 353.5,67.5 353.5,68.5 352.5,69.5 352.5,70.5" fill="#ffcccc" stroke="#d40000"/>
<polygon points="391.5,86.5 391.5,90.5 396.5,90.5 396.5,91.5 395.5,92.5 395.5,93.5 397.5,95.5 398.5,95.5 405.5,88.5 398.5,81.5 397.5,81.5 395.5,83.5 395.5,84.5 396.5,85.5 396.5,86.5" fill="#ffcccc" stroke="#d40000"/>
<polygon points="343.5,120.5 343.5,152.5 350.5,159.5 351.5,159.5 353.5,157.5 353.5,156.5 352.5,155.5 352.5,154.5 357.5,154.5 357.5,152.5 357.5,120.5" fill="#ccffcc" stroke="#009900"/>
<polygon points="357.5,118.5 357.5,122.5 352.5,122.5 352.5,123.5 353.5,124.5 353.5,125.5 351.5,127.5 350.5,127.5 343.5,120.5 350.5,113.5 351.5,113.5 353.5,115.5 353.5,116.5 352.5,117.5 352.5,118.5" fill="#ffcccc" stroke="#d40000"/>
<polygon points="391.5,120.5 391.5,152.5 391.5,154.5 396.5,154.5 396.5,155.5 395.5,156.5 395.5,157.5 397.5,159.5 398.5,159.5 405.5,152.5 405.5,120.5" fill="#ccffcc" stroke="#009900"/>
<polygon points="391.5,118.5 391.5,122.5 396.5,122.5 396.5,123.5 395.5,124.5 395.5,125.5 397.5,127.5 398.5,127.5 405.5,120.5 398.5,113.5 397.5,113.5 395.5,115.5 395.5,116.5 396.5,117.5 396.5,118.5" fill="#ffcccc" stroke="#d40000"/>
<polygon points="364.5,193.5 368.5,193.5 368.5,198.5 369.5,198.5 370.5,197.5 371.5,197.5 373.5,199.5 373.5,200.5 366.5,207.5 359.5,200.5 359.5,199.5 361.5,197.5 362.5,197.5 363.5,198.5 364.5,198.5" fill="#ffcccc" stroke="#d40000"/>
<polygon points="391.5,202.5 391.5,206.5 396.5,206.5 396.5,207.5 395.5,208.5 395.5,209.5 397.5,211.5 398.5,211.5 405.5,204.5 398.5,197.5 397.5,197.5 395.5,199.5 395.5,200.5 396.5,201.5 396.5,202.5" fill="#ffccff" stroke="#992e9c"/>
<polygon points="357.5,206.5 357.5,210.5 352.5,210.5 352.5,211.5 353.5,212.5 353.5,213.5 351.5,215.5 350.5,215.5 343.5,208.5 350.5,201.5 351.5,201.5 353.5,203.5 353.5,204.5 352.5,205.5 352.5,206.5" fill="#99ccff" stroke="#005fcc"/>
<polygon points="364.5,209.5 368.5,209.5 368.5,214.5 369.5,214.5 370.5,213.5 371.5,213.5 373.5,215.5 373.5,216.5 366.5,223.5 359.5,216.5 359.5,215.5 361.5,213.5 362.5,213.5 363.5,214.5 364.5,214.5" fill="#ffcccc" stroke="#d40000"/>
<polygon points="380.5,231.5 384.5,231.5 384.5,226.5 385.5,226.5 386.5,227.5 387.5,227.5 389.5,225.5 389.5,224.5 382.5,217.5 375.5,224.5 375.5,225.5 377.5,227.5 378.5,227.5 379.5,226.5 380.5,226.5" fill="#99ccff" stroke="#005fcc"/>
<polygon points="364.5,221.5 368.5,221.5 368.5,226.5 369.5,226.5 370.5,225.5 371.5,225.5 373.5,227.5 373.5,228.5 366.5,235.5 359.5,228.5 359.5,227.5 361.5,225.5 362.5,225.5 363.5,226.5 364.5,226.5" fill="#ffccff" stroke="#992e9c"/>
<polygon points="357.5,230.5 357.5,234.5 352.5,234.5 352.5,235.5 353.5,236.5 353.5,237.5 351.5,239.5 350.5,239.5 343.5,232.5 350.5,225.5 351.5,225.5 353.5,227.5 353.5,228.5 352.5,229.5 352.5,230.5" fill="#ffcccc" stroke="#d40000"/>
<polygon points="391.5,234.5 391.5,238.5 396.5,238.5 396.5,239.5 395.5,240.5 395.5,241.5 397.5,243.5 398.5,243.5 405.5,236.5 398.5,229.5 397.5,229.5 395.5,231.5 395.5,232.5 396.5,233.5 396.5,234.5" fill="#ffccff" stroke="#992e9c"/>
<polygon points="364.5,233.5 368.5,233.5 368.5,238.5 369.5,238.5 370.5,237.5 371.5,237.5 373.5,239.5 373.5,240.5 366.5,247.5 359.5,240.5 359.5,239.5 361.5,237.5 362.5,237.5 363.5,238.5 364.5,238.5" fill="#99ccff" stroke="#005fcc"/>
<polygon points="357.5,246.5 357.5,250.5 352.5,250.5 352.5,251.5 353.5,252.5 353.5,253.5 351.5,255.5 350.5,255.5 343.5,248.5 350.5,241.5 351.5,241.5 353.5,243.5 353.5,244.5 352.5,245.5 352.5,246.5" fill="#ffcccc" stroke="#d40000"/>
<polygon points="391.5,246.5 391.5,250.5 396.5,250.5 396.5,251.5 395.5,252.5 395.5,253.5 397.5,255.5 398.5,255.5 405.5,248.5 398.5,241.5 397.5,241.5 395.5,243.5 395.5,244.5 396.5,245.5 396.5,246.5" fill="#ffcccc" stroke="#d40000"/>
<polygon points="364.5,257.5 368.5,257.5 368.5,262.5 369.5,262.5 370.5,261.5 371.5,261.5 373.5,263.5 373.5,264.5 366.5,271.5 359.5,264.5 359.5,263.5 361.5,261.5 362.5,261.5 363.5,262.5 364.5,262.5" fill="#ffcccc" stroke="#d40000"/>
<polygon points="391.5,266.5 391.5,270.5 396.5,270.5 396.5,271.5 395.5,272.5 395.5,273.5 397.5,275.5 398.5,275.5 405.5,268.5 398.5,261.5 397.5,261.5 395.5,263.5 395.5,264.5 396.5,265.5 396.5,266.5" fill="#ffccff" stroke="#992e9c"/>
<polygon points="357.5,270.5 357.5,274.5 352.5,274.5 352.5,275.5 353.5,276.5 353.5,277.5 351.5,279.5 350.5,279.5 343.5,272.5 350.5,265.5 351.5,265.5 353.5,267.5 353.5,268.5 352.5,269.5 352.5,270.5" fill="#99ccff" stroke="#005fcc"/>
<polygon points="364.5,273.5 368.5,273.5 368.5,278.5 369.5,278.5 370.5,277.5 371.5,277.5 373.5,279.5 373.5,280.5 366.5,287.5 359.5,280.5 359.5,279.5 361.5,277.5 362.5,277.5 363.5,278.5 364.5,278.5" fill="#ffcccc" stroke="#d40000"/>
<polygon points="380.5,295.5 384.5,295.5 384.5,290.5 385.5,290.5 386.5,291.5 387.5,291.5 389.5,289.5 389.5,288.5 382.5,281.5 375.5,288.5 375.5,289.5 377.5,291.5 378.5,291.5 379.5,290.5 380.5,290.5" fill="#99ccff" stroke="#005fcc"/>
<polygon points="364.5,285.5 368.5,285.5 368.5,290.5 369.5,290.5 370.5,289.5 371.5,289.5 373.5,291.5 373.5,292.5 366.5,299.5 359.5,292.5 359.5,291.5 361.5,289.5 362.5,289.5 363.5,290.5 364.5,290.5" fill="#ffccff" stroke="#992e9c"/>
<polygon points="357.5,294.5 357.5,298.5 352.5,298.5 352.5,299.5 353.5,300.5 353.5,301.5 351.5,303.5 350.5,303.5 343.5,296.5 350.5,289.5 351.5,289.5 353.5,291.5 353.5,292.5 352.5,293.5 352.5,294.5" fill="#ffcccc" stroke="#d40000"/>
<polygon points="380.5,307.5 384.5,307.5 384.5,302.5 385.5,302.5 386.5,303.5 387.5,303.5 389.5,301.5 389.5,300.5 382.5,293.5 375.5,300.5 375.5,301.5 377.5,303.5 378.5,303.5 379.5,302.5 380.5,302.5" fill="#ffccff" stroke="#992e9c"/>
<polygon points="364.5,297.5 368.5,297.5 368.5,302.5 369.5,302.5 370.5,301.5 371.5,301.5 373.5,303.5 373.5,304.5 366.5,311.5 359.5,304.5 359.5,303.5 361.5,301.5 362.5,301.5 363.5,302.5 364.5,302.5" fill="#99ccff" stroke="#005fcc"/>
<polygon points="364.5,305.5 368.5,305.5 368.5,310.5 369.5,310.5 370.5,309.5 371.5,309.5 373.5,311.5 373.5,312.5 366.5,319.5 359.5,312.5 359.5,311.5 361.5,309.5 362.5,309.5 363.5,310.5 364.5,310.5" fill="#ffcccc" stroke="#d40000"/>
<polygon points="391.5,310.5 391.5,314.5 396.5,314.5 396.5,315.5 395.5,316.5 395.5,317.5 397.5,319.5 398.5,319.5 405.5,312.5 398.5,305.5 397.5,305.5 395.5,307.5 395.5,308.5 396.5,309.5 396.5,310.5" fill="#ffcccc" stroke="#d40000"/>
<polygon points="391.5,326.5 391.5,330.5 396.5,330.5 396.5,331.5 395.5,332.5 395.5,333.5 397.5,335.5 398.5,335.5 405.5,328.5 398.5,321.5 397.5,321.5 395.5,323.5 395.5,324.5 396.5,325.5 396.5,326.5" fill="#ffcccc" stroke="#d40000"/>
<polygon points="364.5,325.5 368.5,325.5 368.5,330.5 369.5,330.5 370.5,329.5 371.5,329.5 373.5,331.5 373.5,332.5 366.5,339.5 359.5,332.5 359.5,331.5 361.5,329.5 362.5,329.5 363.5,330.5 364.5,330.5" fill="#ffccff" stroke="#992e9c"/>
<polygon points="391.5,334.5 391.5,338.5 396.5,338.5 396.5,339.5 395.5,340.5 395.5,341.5 397.5,343.5 398.5,343.5 405.5,336.5 398.5,329.5 397.5,329.5 395.5,331.5 395.5,332.5 396.5,333.5 396.5,334.5" fill="#99ccff" stroke="#005fcc"/>
<polygon points="357.5,342.5 357.5,346.5 352.5,346.5 352.5,347.5 353.5,348.5 353.5,349.5 351.5,351.5 350.5,351.5 343.5,344.5 350.5,337.5 351.5,337.5 353.5,339.5 353.5,340.5 352.5,341.5 352.5,342.5" fill="#ffcccc" stroke="#d40000"/>
<polygon points="364.5,345.5 368.5,345.5 368.5,350.5 369.5,350.5 370.5,349.5 371.5,349.5 373.5,351.5 373.5,352.5 366.5,359.5 359.5,352.5 359.5,351.5 361.5,349.5 362.5,349.5 363.5,350.5 364.5,350.5" fill="#99ccff" stroke="#005fcc"/>
<polygon points="380.5,363.5 384.5,363.5 384.5,358.5 385.5,358.5 386.5,359.5 387.5,359.5 389.5,357.5 389.5,356.5 382.5,349.5 375.5,356.5 375.5,357.5 377.5,359.5 378.5,359.5 379.5,358.5 380.5,358.5" fill="#ffccff" stroke="#992e9c"/>
<polygon points="364.5,353.5 368.5,353.5 368.5,358.5 369.5,358.5 370.5,357.5 371.5,357.5 373.5,359.5 373.5,360.5 366.5,367.5 359.5,360.5 359.5,359.5 361.5,357.5 362.5,357.5 363.5,358.5 364.5,358.5" fill="#ffcccc" stroke="#d40000"/>
<polygon points="357.5,362.5 357.5,366.5 352.5,366.5 352.5,367.5 353.5,368.5 353.5,369.5 351.5,371.5 350.5,371.5 343.5,364.5 350.5,357.5 351.5,357.5 353.5,359.5 353.5,360.5 352.5,361.5 352.5,362.5" fill="#ffccff" stroke="#992e9c"/>
<polygon points="380.5,375.5 384.5,375.5 384.5,370.5 385.5,370.5 386.5,371.5 387.5,371.5 389.5,369.5 389.5,368.5 382.5,361.5 375.5,368.5 375.5,369.5 377.5,371.5 378.5,371.5 379.5,370.5 380.5,370.5" fill="#99ccff" stroke="#005fcc"/>
<polygon points="357.5,374.5 357.5,378.5 352.5,378.5 352.5,379.5 353.5,380.5 353.5,381.5 351.5,383.5 350.5,383.5 343.5,376.5 350.5,369.5 351.5,369.5 353.5,371.5 353.5,372.5 352.5,373.5 352.5,374.5" fill="#ffcccc" stroke="#d40000"/>
<polygon points="380.5,383.5 384.5,383.5 384.5,378.5 385.5,378.5 386.5,379.5 387.5,379.5 389.5,377.5 389.5,376.5 382.5,369.5 375.5,376.5 375.5,377.5 377.5,379.5 378.5,379.5 379.5,378.5 380.5,378.5" fill="#ffcccc" stroke="#d40000"/>
<polygon points="357.5,390.5 357.5,394.5 352.5,394.5 352.5,395.5 353.5,396.5 353.5,397.5 351.5,399.5 350.5,399.5 343.5,392.5 350.5,385.5 351.5,385.5 353.5,387.5 353.5,388.5 352.5,389.5 352.5,390.5" fill="#ffcccc" stroke="#d40000"/>
<polygon points="380.5,403.5 384.5,403.5 384.5,398.5 385.5,398.5 386.5,399.5 387.5,399.5 389.5,397.5 389.5,396.5 382.5,389.5 375.5,396.5 375.5,397.5 377.5,399.5 378.5,399.5 379.5,398.5 380.5,398.5" fill="#ffccff" stroke="#992e9c"/>
<polygon points="364.5,393.5 368.5,393.5 368.5,398.5 369.5,398.5 370.5,397.5 371.5,397.5 373.5,399.5 373.5,400.5 366.5,407.5 359.5,400.5 359.5,399.5 361.5,397.5 362.5,397.5 363.5,398.5 364.5,398.5" fill="#99ccff" stroke="#005fcc"/>
<polygon points="391.5,406.5 391.5,410.5 396.5,410.5 396.5,411.5 395.5,412.5 395.5,413.5 397.5,415.5 398.5,415.5 405.5,408.5 398.5,401.5 397.5,401.5 395.5,403.5 395.5,404.5 396.5,405.5 396.5,406.5" fill="#ffcccc" stroke="#d40000"/>
<polygon points="364.5,409.5 368.5,409.5 368.5,414.5 369.5,414.5 370.5,413.5 371.5,413.5 373.5,415.5 373.5,416.5 366.5,423.5 359.5,416.5 359.5,415.5 361.5,413.5 362.5,413.5 363.5,414.5 364.5,414.5" fill="#99ccff" stroke="#005fcc"/>
<polygon points="391.5,418.5 391.5,422.5 396.5,422.5 396.5,423.5 395.5,424.5 395.5,425.5 397.5,427.5 398.5,427.5 405.5,420.5 398.5,413.5 397.5,413.5 395.5,415.5 395.5,416.5 396.5,417.5 396.5,418.5" fill="#ffccff" stroke="#992e9c"/>
<polygon points="357.5,422.5 357.5,426.5 352.5,426.5 352.5,427.5 353.5,428.5 353.5,429.5 351.5,431.5 350.5,431.5 343.5,424.5 350.5,417.5 351.5,417.5 353.5,419.5 353.5,420.5 352.5,421.5 352.5,422.5" fill="#ffcccc" stroke="#d40000"/>
<polygon points="364.5,421.5 368.5,421.5 368.5,426.5 369.5,426.5 370.5,425.5 371.5,425.5 373.5,427.5 373.5,428.5 366.5,435.5 359.5,428.5 359.5,427.5 361.5,425.5 362.5,425.5 363.5,426.5 364.5,426.5" fill="#ffccff" stroke="#992e9c"/>
<polygon points="380.5,439.5 384.5,439.5 384.5,434.5 385.5,434.5 386.5,435.5 387.5,435.5 389.5,433.5 389.5,432.5 382.5,425.5 375.5,432.5 375.5,433.5 377.5,435.5 378.5,435.5 379.5,434.5 380.5,434.5" fill="#99ccff" stroke="#005fcc"/>
<polygon points="364.5,433.5 368.5,433.5 368.5,438.5 369.5,438.5 370.5,437.5 371.5,437.5 373.5,439.5 373.5,440.5 366.5,447.5 359.5,440.5 359.5,439.5 361.5,437.5 362.5,437.5 363.5,438.5 364.5,438.5" fill="#ffcccc" stroke="#d40000"/>
<polygon points="380.5,447.5 384.5,447.5 384.5,442.5 385.5,442.5 386.5,443.5 387.5,443.5 389.5,441.5 389.5,440.5 382.5,433.5 375.5,440.5 375.5,441.5 377.5,443.5 378.5,443.5 379.5,442.5 380.5,442.5" fill="#ffcccc" stroke="#d40000"/>
<polygon points="380.5,463.5 384.5,463.5 384.5,458.5 385.5,458.5 386.5,459.5 387.5,459.5 389.5,457.5 389.5,456.5 382.5,449.5 375.5,456.5 375.5,457.5 377.5,459.5 378.5,459.5 379.5,458.5 380.5,458.5" fill="#ffcccc" stroke="#d40000"/>
<polygon points="391.5,458.5 391.5,462.5 396.5,462.5 396.5,463.5 395.5,464.5 395.5,465.5 397.5,467.5 398.5,467.5 405.5,460.5 398.5,453.5 397.5,453.5 395.5,455.5 395.5,456.5 396.5,457.5 396.5,458.5" fill="#ffccff" stroke="#992e9c"/>
<polygon points="364.5,457.5 368.5,457.5 368.5,462.5 369.5,462.5 370.5,461.5 371.5,461.5 373.5,463.5 373.5,464.5 366.5,471.5 359.5,464.5 359.5,463.5 361.5,461.5 362.5,461.5 363.5,462.5 364.5,462.5" fill="#99ccff" stroke="#005fcc"/>
<polygon points="391.5,470.5 391.5,474.5 396.5,474.5 396.5,475.5 395.5,476.5 395.5,477.5 397.5,479.5 398.5,479.5 405.5,472.5 398.5,465.5 397.5,465.5 395.5,467.5 395.5,468.5 396.5,469.5 396.5,470.5" fill="#ffcccc" stroke="#d40000"/>
<polygon points="357.5,478.5 357.5,482.5 352.5,482.5 352.5,483.5 353.5,484.5 353.5,485.5 351.5,487.5 350.5,487.5 343.5,480.5 350.5,473.5 351.5,473.5 353.5,475.5 353.5,476.5 352.5,477.5 352.5,478.5" fill="#99ccff" stroke="#005fcc"/>
<polygon points="391.5,482.5 391.5,486.5 396.5,486.5 396.5,487.5 395.5,488.5 395.5,489.5 397.5,491.5 398.5,491.5 405.5,484.5 398.5,477.5 397.5,477.5 395.5,479.5 395.5,480.5 396.5,481.5 396.5,482.5" fill="#ffccff" stroke="#992e9c"/>
<polygon points="380.5,495.5 384.5,495.5 384.5,490.5 385.5,490.5 386.5,491.5 387.5,491.5 389.5,489.5 389.5,488.5 382.5,481.5 375.5,488.5 375.5,489.5 377.5,491.5 378.5,491.5 379.5,490.5 380.5,490.5" fill="#ffcccc" stroke="#d40000"/>
<polygon points="364.5,485.5 368.5,485.5 368.5,490.5 369.5,490.5 370.5,489.5 371.5,489.5 373.5,491.5 373.5,492.5 366.5,499.5 359.5,492.5 359.5,491.5 361.5,489.5 362.5,489.5 363.5,490.5 364.5,490.5" fill="#ffccff" stroke="#992e9c"/>
<polygon points="357.5,494.5 357.5,498.5 352.5,498.5 352.5,499.5 353.5,500.5 353.5,501.5 351.5,503.5 350.5,503.5 343.5,496.5 350.5,489.5 351.5,489.5 353.5,491.5 353.5,492.5 352.5,493.5 352.5,494.5" fill="#99ccff" stroke="#005fcc"/>
<polygon points="357.5,502.5 357.5,506.5 352.5,506.5 352.5,507.5 353.5,508.5 353.5,509.5 351.5,511.5 350.5,511.5 343.5,504.5 350.5,497.5 351.5,497.5 353.5,499.5 353.5,500.5 352.5,501.5 352.5,502.5" fill="#ffcccc" stroke="#d40000"/>
<polygon points="364.5,497.5 368.5,497.5 368.5,502.5 369.5,502.5 370.5,501.5 371.5,501.5 373.5,503.5 373.5,504.5 366.5,511.5 359.5,504.5 359.5,503.5 361.5,501.5 362.5,501.5 363.5,502.5 364.5,502.5" fill="#ffcccc" stroke="#d40000"/>
<polygon points="364.5,513.5 368.5,513.5 368.5,518.5 369.5,518.5 370.5,517.5 371.5,517.5 373.5,519.5 373.5,520.5 366.5,527.5 359.5,520.5 359.5,519.5 361.5,517.5 362.5,517.5 363.5,518.5 364.5,518.5" fill="#ffcccc" stroke="#d40000"/>
<polygon points="357.5,522.5 357.5,526.5 352.5,526.5 352.5,527.5 353.5,528.5 353.5,529.5 351.5,531.5 350.5,531.5 343.5,524.5 350.5,517.5 351.5,517.5 353.5,519.5 353.5,520.5 352.5,521.5 352.5,522.5" fill="#ffccff" stroke="#992e9c"/>
<polygon points="380.5,535.5 384.5,535.5 384.5,530.5 385.5,530.5 386.5,531.5 387.5,531.5 389.5,529.5 389.5,528.5 382.5,521.5 375.5,528.5 375.5,529.5 377.5,531.5 378.5,531.5 379.5,530.5 380.5,530.5" fill="#99ccff" stroke="#005fcc"/>
<polygon points="364.5,529.5 368.5,529.5 368.5,534.5 369.5,534.5 370.5,533.5 371.5,533.5 373.5,535.5 373.5,536.5 366.5,543.5 359.5,536.5 359.5,535.5 361.5,533.5 362.5,533.5 363.5,534.5 364.5,534.5" fill="#ffcccc" stroke="#d40000"/>
<polygon points="380.5,551.5 384.5,551.5 384.5,546.5 385.5,546.5 386.5,547.5 387.5,547.5 389.5,545.5 389.5,544.5 382.5,537.5 375.5,544.5 375.5,545.5 377.5,547.5 378.5,547.5 379.5,546.5 380.5,546.5" fill="#99ccff" stroke="#005fcc"/>
<polygon points="357.5,546.5 357.5,550.5 352.5,550.5 352.5,551.5 353.5,552.5 353.5,553.5 351.5,555.5 350.5,555.5 343.5,548.5 350.5,541.5 351.5,541.5 353.5,543.5 353.5,544.5 352.5,545.5 352.5,546.5" fill="#ffccff" stroke="#992e9c"/>
<polygon points="391.5,550.5 391.5,554.5 396.5,554.5 396.5,555.5 395.5,556.5 395.5,557.5 397.5,559.5 398.5,559.5 405.5,552.5 398.5,545.5 397.5,545.5 395.5,547.5 395.5,548.5 396.5,549.5 396.5,550.5" fill="#ffcccc" stroke="#d40000"/>
<polygon points="364.5,549.5 368.5,549.5 368.5,554.5 369.5,554.5 370.5,553.5 371.5,553.5 373.5,555.5 373.5,556.5 366.5,563.5 359.5,556.5 359.5,555.5 361.5,553.5 362.5,553.5 363.5,554.5 364.5,554.5" fill="#ffccff" stroke="#992e9c"/>
<polygon points="391.5,558.5 391.5,562.5 396.5,562.5 396.5,563.5 395.5,564.5 395.5,565.5 397.5,567.5 398.5,567.5 405.5,560.5 398.5,553.5 397.5,553.5 395.5,555.5 395.5,556.5 396.5,557.5 396.5,558.5" fill="#99ccff" stroke="#005fcc"/>
<polygon points="364.5,561.5 368.5,561.5 368.5,566.5 369.5,566.5 370.5,565.5 371.5,565.5 373.5,567.5 373.5,568.5 366.5,575.5 359.5,568.5 359.5,567.5 361.5,565.5 362.5,565.5 363.5,566.5 364.5,566.5" fill="#ffcccc" stroke="#d40000"/>
<polygon points="391.5,566.5 391.5,570.5 396.5,570.5 396.5,571.5 395.5,572.5 395.5,573.5 397.5,575.5 398.5,575.5 405.5,568.5 398.5,561.5 397.5,561.5 395.5,563.5 395.5,564.5 396.5,565.5 396.5,566.5" fill="#ffcccc" stroke="#d40000"/>
<polygon points="391.5,582.5 391.5,586.5 396.5,586.5 396.5,587.5 395.5,588.5 395.5,589.5 397.5,591.5 398.5,591.5 405.5,584.5 398.5,577.5 397.5,577.5 395.5,579.5 395.5,580.5 396.5,581.5 396.5,582.5" fill="#ffcccc" stroke="#d40000"/>
<polygon points="364.5,581.5 368.5,581.5 368.5,586.5 369.5,586.5 370.5,585.5 371.5,585.5 373.5,587.5 373.5,588.5 366.5,595.5 359.5,588.5 359.5,587.5 361.5,585.5 362.5,585.5 363.5,586.5 364.5,586.5" fill="#ffccff" stroke="#992e9c"/>
<polygon points="391.5,590.5 391.5,594.5 396.5,594.5 396.5,595.5 395.5,596.5 395.5,597.5 397.5,599.5 398.5,599.5 405.5,592.5 398.5,585.5 397.5,585.5 395.5,587.5 395.5,588.5 396.5,589.5 396.5,590.5" fill="#99ccff" stroke="#005fcc"/>
<polygon points="357.5,598.5 357.5,602.5 352.5,602.5 352.5,603.5 353.5,604.5 353.5,605.5 351.5,607.5 350.5,607.5 343.5,600.5 350.5,593.5 351.5,593.5 353.5,595.5 353.5,596.5 352.5,597.5 352.5,598.5" fill="#ffcccc" stroke="#d40000"/>
<polygon points="364.5,601.5 368.5,601.5 368.5,606.5 369.5,606.5 370.5,605.5 371.5,605.5 373.5,607.5 373.5,608.5 366.5,615.5 359.5,608.5 359.5,607.5 361.5,605.5 362.5,605.5 363.5,606.5 364.5,606.5" fill="#99ccff" stroke="#005fcc"/>
<polygon points="380.5,619.5 384.5,619.5 384.5,614.5 385.5,614.5 386.5,615.5 387.5,615.5 389.5,613.5 389.5,612.5 382.5,605.5 375.5,612.5 375.5,613.5 377.5,615.5 378.5,615.5 379.5,614.5 380.5,614.5" fill="#ffccff" stroke="#992e9c"/>
<polygon points="364.5,609.5 368.5,609.5 368.5,614.5 369.5,614.5 370.5,613.5 371.5,613.5 373.5,615.5 373.5,616.5 366.5,623.5 359.5,616.5 359.5,615.5 361.5,613.5 362.5,613.5 363.5,614.5 364.5,614.5" fill="#ffcccc" stroke="#d40000"/>
<polygon points="357.5,618.5 357.5,622.5 352.5,622.5 352.5,623.5 353.5,624.5 353.5,625.5 351.5,627.5 350.5,627.5 343.5,620.5 350.5,613.5 351.5,613.5 353.5,615.5 353.5,616.5 352.5,617.5 352.5,618.5" fill="#ffccff" stroke="#992e9c"/>
<polygon points="380.5,631.5 384.5,631.5 384.5,626.5 385.5,626.5 386.5,627.5 387.5,627.5 389.5,625.5 389.5,624.5 382.5,617.5 375.5,624.5 375.5,625.5 377.5,627.5 378.5,627.5 379.5,626.5 380.5,626.5" fill="#99ccff" stroke="#005fcc"/>
<polygon points="357.5,630.5 357.5,634.5 352.5,634.5 352.5,635.5 353.5,636.5 353.5,637.5 351.5,639.5 350.5,639.5 343.5,632.5 350.5,625.5 351.5,625.5 353.5,627.5 353.5,628.5 352.5,629.5 352.5,630.5" fill="#ffcccc" stroke="#d40000"/>
<polygon points="380.5,639.5 384.5,639.5 384.5,634.5 385.5,634.5 386.5,635.5 387.5,635.5 389.5,633.5 389.5,632.5 382.5,625.5 375.5,632.5 375.5,633.5 377.5,635.5 378.5,635.5 379.5,634.5 380.5,634.5" fill="#ffcccc" stroke="#d40000"/>
<polygon points="380.5,655.5 384.5,655.5 384.5,650.5 385.5,650.5 386.5,651.5 387.5,651.5 389.5,649.5 389.5,648.5 382.5,641.5 375.5,648.5 375.5,649.5 377.5,651.5 378.5,651.5 379.5,650.5 380.5,650.5" fill="#ffcccc" stroke="#d40000"/>
<polygon points="357.5,650.5 357.5,654.5 352.5,654.5 352.5,655.5 353.5,656.5 353.5,657.5 351.5,659.5 350.5,659.5 343.5,652.5 350.5,645.5 351.5,645.5 353.5,647.5 353.5,648.5 352.5,649.5 352.5,650.5" fill="#ffccff" stroke="#992e9c"/>
<polygon points="391.5,654.5 391.5,658.5 396.5,658.5 396.5,659.5 395.5,660.5 395.5,661.5 397.5,663.5 398.5,663.5 405.5,656.5 398.5,649.5 397.5,649.5 395.5,651.5 395.5,652.5 396.5,653.5 396.5,654.5" fill="#99ccff" stroke="#005fcc"/>
<polygon points="364.5,657.5 368.5,657.5 368.5,662.5 369.5,662.5 370.5,661.5 371.5,661.5 373.5,663.5 373.5,664.5 366.5,671.5 359.5,664.5 359.5,663.5 361.5,661.5 362.5,661.5 363.5,662.5 364.5,662.5" fill="#ffcccc" stroke="#d40000"/>
<polygon points="391.5,670.5 391.5,674.5 396.5,674.5 396.5,675.5 395.5,676.5 395.5,677.5 397.5,679.5 398.5,679.5 405.5,672.5 398.5,665.5 397.5,665.5 395.5,667.5 395.5,668.5 396.5,669.5 396.5,670.5" fill="#99ccff" stroke="#005fcc"/>
<polygon points="380.5,683.5 384.5,683.5 384.5,678.5 385.5,678.5 386.5,679.5 387.5,679.5 389.5,677.5 389.5,676.5 382.5,669.5 375.5,676.5 375.5,677.5 377.5,679.5 378.5,679.5 379.5,678.5 380.5,678.5" fill="#ffccff" stroke="#992e9c"/>
<polygon points="364.5,673.5 368.5,673.5 368.5,678.5 369.5,678.5 370.5,677.5 371.5,677.5 373.5,679.5 373.5,680.5 366.5,687.5 359.5,680.5 359.5,679.5 361.5,677.5 362.5,677.5 363.5,678.5 364.5,678.5" fill="#ffcccc" stroke="#d40000"/>
<polygon points="357.5,682.5 357.5,686.5 352.5,686.5 352.5,687.5 353.5,688.5 353.5,689.5 351.5,691.5 350.5,691.5 343.5,684.5 350.5,677.5 351.5,677.5 353.5,679.5 353.5,680.5 352.5,681.5 352.5,682.5" fill="#ffccff" stroke="#992e9c"/>
<polygon points="364.5,681.5 368.5,681.5 368.5,686.5 369.5,686.5 370.5,685.5 371.5,685.5 373.5,687.5 373.5,688.5 366.5,695.5 359.5,688.5 359.5,687.5 361.5,685.5 362.5,685.5 363.5,686.5 364.5,686.5" fill="#99ccff" stroke="#005fcc"/>
<polygon points="357.5,694.5 357.5,698.5 352.5,698.5 352.5,699.5 353.5,700.5 353.5,701.5 351.5,703.5 350.5,703.5 343.5,696.5 350.5,689.5 351.5,689.5 353.5,691.5 353.5,692.5 352.5,693.5 352.5,694.5" fill="#ffcccc" stroke="#d40000"/>
<polygon points="391.5,694.5 391.5,698.5 396.5,698.5 396.5,699.5 395.5,700.5 395.5,701.5 397.5,703.5 398.5,703.5 405.5,696.5 398.5,689.5 397.5,689.5 395.5,691.5 395.5,692.5 396.5,693.5 396.5,694.5" fill="#ffcccc" stroke="#d40000"/>
<polygon points="359.5,704.5 359.5,728.5 366.5,735.5 373.5,728.5 373.5,704.5" fill="#ccffcc" stroke="#009900"/>
<polygon points="364.5,697.5 368.5,697.5 368.5,702.5 369.5,702.5 370.5,701.5 371.5,701.5 373.5,703.5 373.5,704.5 366.5,711.5 359.5,704.5 359.5,703.5 361.5,701.5 362.5,701.5 363.5,702.5 364.5,702.5" fill="#99ccff" stroke="#005fcc"/>
<polygon points="380.5,735.5 384.5,735.5 384.5,730.5 385.5,730.5 386.5,731.5 387.5,731.5 389.5,729.5 389.5,728.5 382.5,721.5 375.5,728.5 375.5,729.5 377.5,731.5 378.5,731.5 379.5,730.5 380.5,730.5" fill="#ffcccc" stroke="#d40000"/>
<polygon points="357.5,734.5 357.5,738.5 352.5,738.5 352.5,739.5 353.5,740.5 353.5,741.5 351.5,743.5 350.5,743.5 343.5,736.5 350.5,729.5 351.5,729.5 353.5,731.5 353.5,732.5 352.5,733.5 352.5,734.5" fill="#99ccff" stroke="#005fcc"/>
<polygon points="380.5,751.5 384.5,751.5 384.5,746.5 385.5,746.5 386.5,747.5 387.5,747.5 389.5,745.5 389.5,744.5 382.5,737.5 375.5,744.5 375.5,745.5 377.5,747.5 378.5,747.5 379.5,746.5 380.5,746.5" fill="#ffcccc" stroke="#d40000"/>
<polygon points="357.5,750.5 357.5,754.5 352.5,754.5 352.5,755.5 353.5,756.5 353.5,757.5 351.5,759.5 350.5,759.5 343.5,752.5 350.5,745.5 351.5,745.5 353.5,747.5 353.5,748.5 352.5,749.5 352.5,750.5" fill="#99ccff" stroke="#005fcc"/>
<polygon points="391.5,758.5 391.5,762.5 396.5,762.5 396.5,763.5 395.5,764.5 395.5,765.5 397.5,767.5 398.5,767.5 405.5,760.5 398.5,753.5 397.5,753.5 395.5,755.5 395.5,756.5 396.5,757.5 396.5,758.5" fill="#ffcccc" stroke="#d40000"/>
<polygon points="364.5,761.5 368.5,761.5 368.5,766.5 369.5,766.5 370.5,765.5 371.5,765.5 373.5,767.5 373.5,768.5 366.5,775.5 359.5,768.5 359.5,767.5 361.5,765.5 362.5,765.5 363.5,766.5 364.5,766.5" fill="#99ccff" stroke="#005fcc"/>
<polygon points="391.5,774.5 391.5,778.5 396.5,778.5 396.5,779.5 395.5,780.5 395.5,781.5 397.5,783.5 398.5,783.5 405.5,776.5 398.5,769.5 397.5,769.5 395.5,771.5 395.5,772.5 396.5,773.5 396.5,774.5" fill="#ffcccc" stroke="#d40000"/>
<polygon points="380.5,799.5 384.5,799.5 384.5,794.5 385.5,794.5 386.5,795.5 387.5,795.5 389.5,793.5 389.5,792.5 382.5,785.5 375.5,792.5 375.5,793.5 377.5,795.5 378.5,795.5 379.5,794.5 380.5,794.5" fill="#ffcccc" stroke="#d40000"/>
<polygon points="364.5,793.5 368.5,793.5 368.5,798.5 369.5,798.5 370.5,797.5 371.5,797.5 373.5,799.5 373.5,800.5 366.5,807.5 359.5,800.5 359.5,799.5 361.5,797.5 362.5,797.5 363.5,798.5 364.5,798.5" fill="#99ccff" stroke="#005fcc"/>
<polygon points="380.5,815.5 384.5,815.5 384.5,810.5 385.5,810.5 386.5,811.5 387.5,811.5 389.5,809.5 389.5,808.5 382.5,801.5 375.5,808.5 375.5,809.5 377.5,811.5 378.5,811.5 379.5,810.5 380.5,810.5" fill="#ffcccc" stroke="#d40000"/>
<polygon points="364.5,809.5 368.5,809.5 368.5,814.5 369.5,814.5 370.5,813.5 371.5,813.5 373.5,815.5 373.5,816.5 366.5,823.5 359.5,816.5 359.5,815.5 361.5,813.5 362.5,813.5 363.5,814.5 364.5,814.5" fill="#99ccff" stroke="#005fcc"/>
<polygon points="437.5,54.5 437.5,58.5 432.5,58.5 432.5,59.5 433.5,60.5 433.5,61.5 431.5,63.5 430.5,63.5 423.5,56.5 430.5,49.5 431.5,49.5 433.5,51.5 433.5,52.5 432.5,53.5 432.5,54.5" fill="#ffcccc" stroke="#d40000"/>
<polygon points="471.5,62.5 471.5,66.5 476.5,66.5 476.5,67.5 475.5,68.5 475.5,69.5 477.5,71.5 478.5,71.5 485.5,64.5 478.5,57.5 477.5,57.5 475.5,59.5 475.5,60.5 476.5,61.5 476.5,62.5" fill="#99ccff" stroke="#005fcc"/>
<polygon points="444.5,65.5 448.5,65.5 448.5,70.5 449.5,70.5 450.5,69.5 451.5,69.5 453.5,71.5 453.5,72.5 446.5,79.5 439.5,72.5 439.5,71.5 441.5,69.5 442.5,69.5 443.5,70.5 444.5,70.5" fill="#ffcccc" stroke="#d40000"/>
<polygon points="444.5,81.5 448.5,81.5 448.5,86.5 449.5,86.5 450.5,85.5 451.5,85.5 453.5,87.5 453.5,88.5 446.5,95.5 439.5,88.5 439.5,87.5 441.5,85.5 442.5,85.5 443.5,86.5 444.5,86.5" fill="#ffcccc" stroke="#d40000"/>
<polygon points="471.5,86.5 471.5,90.5 476.5,90.5 476.5,91.5 475.5,92.5 475.5,93.5 477.5,95.5 478.5,95.5 485.5,88.5 478.5,81.5 477.5,81.5 475.5,83.5 475.5,84.5 476.5,85.5 476.5,86.5" fill="#ffcccc" stroke="#d40000"/>
<polygon points="444.5,97.5 448.5,97.5 448.5,102.5 449.5,102.5 450.5,101.5 451.5,101.5 453.5,103.5 453.5,104.5 446.5,111.5 439.5,104.5 439.5,103.5 441.5,101.5 442.5,101.5 443.5,102.5 444.5,102.5" fill="#ffcccc" stroke="#d40000"/>
<polygon points="471.5,102.5 471.5,106.5 476.5,106.5 476.5,107.5 475.5,108.5 475.5,109.5 477.5,111.5 478.5,111.5 485.5,104.5 478.5,97.5 477.5,97.5 475.5,99.5 475.5,100.5 476.5,101.5 476.5,102.5" fill="#ffcccc" stroke="#d40000"/>
<polygon points="437.5,118.5 437.5,122.5 432.5,122.5 432.5,123.5 433.5,124.5 433.5,125.5 431.5,127.5 430.5,127.5 423.5,120.5 430.5,113.5 431.5,113.5 433.5,115.5 433.5,116.5 432.5,117.5 432.5,118.5" fill="#ffcccc" stroke="#d40000"/>
<polygon points="471.5,126.5 471.5,130.5 476.5,130.5 476.5,131.5 475.5,132.5 475.5,133.5 477.5,135.5 478.5,135.5 485.5,128.5 478.5,121.5 477.5,121.5 475.5,123.5 475.5,124.5 476.5,125.5 476.5,126.5" fill="#99ccff" stroke="#005fcc"/>
<polygon points="437.5,134.5 437.5,138.5 432.5,138.5 432.5,139.5 433.5,140.5 433.5,141.5 431.5,143.5 430.5,143.5 423.5,136.5 430.5,129.5 431.5,129.5 433.5,131.5 433.5,132.5 432.5,133.5 432.5,134.5" fill="#ffcccc" stroke="#d40000"/>
<polygon points="471.5,142.5 471.5,146.5 476.5,146.5 476.5,147.5 475.5,148.5 475.5,149.5 477.5,151.5 478.5,151.5 485.5,144.5 478.5,137.5 477.5,137.5 475.5,139.5 475.5,140.5 476.5,141.5 476.5,142.5" fill="#99ccff" stroke="#005fcc"/>
<polygon points="437.5,150.5 437.5,154.5 432.5,154.5 432.5,155.5 433.5,156.5 433.5,157.5 431.5,159.5 430.5,159.5 423.5,152.5 430.5,145.5 431.5,145.5 433.5,147.5 433.5,148.5 432.5,149.5 432.5,150.5" fill="#ffcccc" stroke="#d40000"/>
<polygon points="471.5,166.5 471.5,170.5 476.5,170.5 476.5,171.5 475.5,172.5 475.5,173.5 477.5,175.5 478.5,175.5 485.5,168.5 478.5,161.5 477.5,161.5 475.5,163.5 475.5,164.5 476.5,165.5 476.5,166.5" fill="#ffcccc" stroke="#d40000"/>
<polygon points="444.5,169.5 448.5,169.5 448.5,174.5 449.5,174.5 450.5,173.5 451.5,173.5 453.5,175.5 453.5,176.5 446.5,183.5 439.5,176.5 439.5,175.5 441.5,173.5 442.5,173.5 443.5,174.5 444.5,174.5" fill="#99ccff" stroke="#005fcc"/>
<polygon points="471.5,182.5 471.5,186.5 476.5,186.5 476.5,187.5 475.5,188.5 475.5,189.5 477.5,191.5 478.5,191.5 485.5,184.5 478.5,177.5 477.5,177.5 475.5,179.5 475.5,180.5 476.5,181.5 476.5,182.5" fill="#ffcccc" stroke="#d40000"/>
<polygon points="444.5,185.5 448.5,185.5 448.5,190.5 449.5,190.5 450.5,189.5 451.5,189.5 453.5,191.5 453.5,192.5 446.5,199.5 439.5,192.5 439.5,191.5 441.5,189.5 442.5,189.5 443.5,190.5 444.5,190.5" fill="#99ccff" stroke="#005fcc"/>
<polygon points="460.5,207.5 464.5,207.5 464.5,202.5 465.5,202.5 466.5,203.5 467.5,203.5 469.5,201.5 469.5,200.5 462.5,193.5 455.5,200.5 455.5,201.5 457.5,203.5 458.5,203.5 459.5,202.5 460.5,202.5" fill="#ffcccc" stroke="#d40000"/>
<polygon points="423.5,208.5 423.5,216.5 430.5,223.5 431.5,223.5 433.5,221.5 433.5,220.5 432.5,219.5 432.5,218.5 437.5,218.5 437.5,216.5 437.5,208.5" fill="#ccffcc" stroke="#009900"/>
<polygon points="437.5,206.5 437.5,210.5 432.5,210.5 432.5,211.5 433.5,212.5 433.5,213.5 431.5,215.5 430.5,215.5 423.5,208.5 430.5,201.5 431.5,201.5 433.5,203.5 433.5,204.5 432.5,205.5 432.5,206.5" fill="#99ccff" stroke="#005fcc"/>
<polygon points="460.5,223.5 464.5,223.5 464.5,218.5 465.5,218.5 466.5,219.5 467.5,219.5 469.5,217.5 469.5,216.5 462.5,209.5 455.5,216.5 455.5,217.5 457.5,219.5 458.5,219.5 459.5,218.5 460.5,218.5" fill="#ffcccc" stroke="#d40000"/>
<polygon points="437.5,222.5 437.5,226.5 432.5,226.5 432.5,227.5 433.5,228.5 433.5,229.5 431.5,231.5 430.5,231.5 423.5,224.5 430.5,217.5 431.5,217.5 433.5,219.5 433.5,220.5 432.5,221.5 432.5,222.5" fill="#99ccff" stroke="#005fcc"/>
<polygon points="460.5,239.5 464.5,239.5 464.5,234.5 465.5,234.5 466.5,235.5 467.5,235.5 469.5,233.5 469.5,232.5 462.5,225.5 455.5,232.5 455.5,233.5 457.5,235.5 458.5,235.5 459.5,234.5 460.5,234.5" fill="#ffcccc" stroke="#d40000"/>
<polygon points="444.5,233.5 448.5,233.5 448.5,238.5 449.5,238.5 450.5,237.5 451.5,237.5 453.5,239.5 453.5,240.5 446.5,247.5 439.5,240.5 439.5,239.5 441.5,237.5 442.5,237.5 443.5,238.5 444.5,238.5" fill="#99ccff" stroke="#005fcc"/>
<polygon points="471.5,246.5 471.5,250.5 476.5,250.5 476.5,251.5 475.5,252.5 475.5,253.5 477.5,255.5 478.5,255.5 485.5,248.5 478.5,241.5 477.5,241.5 475.5,243.5 475.5,244.5 476.5,245.5 476.5,246.5" fill="#ffcccc" stroke="#d40000"/>
<polygon points="437.5,254.5 437.5,258.5 432.5,258.5 432.5,259.5 433.5,260.5 433.5,261.5 431.5,263.5 430.5,263.5 423.5,256.5 430.5,249.5 431.5,249.5 433.5,251.5 433.5,252.5 432.5,253.5 432.5,254.5" fill="#99ccff" stroke="#005fcc"/>
<polygon points="471.5,262.5 471.5,266.5 476.5,266.5 476.5,267.5 475.5,268.5 475.5,269.5 477.5,271.5 478.5,271.5 485.5,264.5 478.5,257.5 477.5,257.5 475.5,259.5 475.5,260.5 476.5,261.5 476.5,262.5" fill="#ffcccc" stroke="#d40000"/>
<polygon points="460.5,287.5 464.5,287.5 464.5,282.5 465.5,282.5 466.5,283.5 467.5,283.5 469.5,281.5 469.5,280.5 462.5,273.5 455.5,280.5 455.5,281.5 457.5,283.5 458.5,283.5 459.5,282.5 460.5,282.5" fill="#ffcccc" stroke="#d40000"/>
<polygon points="444.5,281.5 448.5,281.5 448.5,286.5 449.5,286.5 450.5,285.5 451.5,285.5 453.5,287.5 453.5,288.5 446.5,295.5 439.5,288.5 439.5,287.5 441.5,285.5 442.5,285.5 443.5,286.5 444.5,286.5" fill="#99ccff" stroke="#005fcc"/>
<polygon points="437.5,294.5 437.5,298.5 432.5,298.5 432.5,299.5 433.5,300.5 433.5,301.5 431.5,303.5 430.5,303.5 423.5,296.5 430.5,289.5 431.5,289.5 433.5,291.5 433.5,292.5 432.5,293.5 432.5,294.5" fill="#ffcccc" stroke="#d40000"/>
<polygon points="444.5,297.5 448.5,297.5 448.5,302.5 449.5,302.5 450.5,301.5 451.5,301.5 453.5,303.5 453.5,304.5 446.5,311.5 439.5,304.5 439.5,303.5 441.5,301.5 442.5,301.5 443.5,302.5 444.5,302.5" fill="#99ccff" stroke="#005fcc"/>
<polygon points="460.5,319.5 464.5,319.5 464.5,314.5 465.5,314.5 466.5,315.5 467.5,315.5 469.5,313.5 469.5,312.5 462.5,305.5 455.5,312.5 455.5,313.5 457.5,315.5 458.5,315.5 459.5,314.5 460.5,314.5" fill="#ffcccc" stroke="#d40000"/>
<polygon points="471.5,318.5 471.5,322.5 476.5,322.5 476.5,323.5 475.5,324.5 475.5,325.5 477.5,327.5 478.5,327.5 485.5,320.5 478.5,313.5 477.5,313.5 475.5,315.5 475.5,316.5 476.5,317.5 476.5,318.5" fill="#99ccff" stroke="#005fcc"/>
<polygon points="437.5,326.5 437.5,330.5 432.5,330.5 432.5,331.5 433.5,332.5 433.5,333.5 431.5,335.5 430.5,335.5 423.5,328.5 430.5,321.5 431.5,321.5 433.5,323.5 433.5,324.5 432.5,325.5 432.5,326.5" fill="#ffcccc" stroke="#d40000"/>
<polygon points="437.5,342.5 437.5,346.5 432.5,346.5 432.5,347.5 433.5,348.5 433.5,349.5 431.5,351.5 430.5,351.5 423.5,344.5 430.5,337.5 431.5,337.5 433.5,339.5 433.5,340.5 432.5,341.5 432.5,342.5" fill="#ffcccc" stroke="#d40000"/>
<polygon points="471.5,342.5 471.5,346.5 476.5,346.5 476.5,347.5 475.5,348.5 475.5,349.5 477.5,351.5 478.5,351.5 485.5,344.5 478.5,337.5 477.5,337.5 475.5,339.5 475.5,340.5 476.5,341.5 476.5,342.5" fill="#ffcccc" stroke="#d40000"/>
<polygon points="437.5,358.5 437.5,362.5 432.5,362.5 432.5,363.5 433.5,364.5 433.5,365.5 431.5,367.5 430.5,367.5 423.5,360.5 430.5,353.5 431.5,353.5 433.5,355.5 433.5,356.5 432.5,357.5 432.5,358.5" fill="#ffcccc" stroke="#d40000"/>
<polygon points="471.5,358.5 471.5,362.5 476.5,362.5 476.5,363.5 475.5,364.5 475.5,365.5 477.5,367.5 478.5,367.5 485.5,360.5 478.5,353.5 477.5,353.5 475.5,355.5 475.5,356.5 476.5,357.5 476.5,358.5" fill="#ffcccc" stroke="#d40000"/>
<polygon points="444.5,369.5 448.5,369.5 448.5,374.5 449.5,374.5 450.5,373.5 451.5,373.5 453.5,375.5 453.5,376.5 446.5,383.5 439.5,376.5 439.5,375.5 441.5,373.5 442.5,373.5 443.5,374.5 444.5,374.5" fill="#ffcccc" stroke="#d40000"/>
<polygon points="471.5,382.5 471.5,386.5 476.5,386.5 476.5,387.5 475.5,388.5 475.5,389.5 477.5,391.5 478.5,391.5 485.5,384.5 478.5,377.5 477.5,377.5 475.5,379.5 475.5,380.5 476.5,381.5 476.5,382.5" fill="#99ccff" stroke="#005fcc"/>
<polygon points="444.5,385.5 448.5,385.5 448.5,390.5 449.5,390.5 450.5,389.5 451.5,389.5 453.5,391.5 453.5,392.5 446.5,399.5 439.5,392.5 439.5,391.5 441.5,389.5 442.5,389.5 443.5,390.5 444.5,390.5" fill="#ffcccc" stroke="#d40000"/>
<polygon points="471.5,398.5 471.5,402.5 476.5,402.5 476.5,403.5 475.5,404.5 475.5,405.5 477.5,407.5 478.5,407.5 485.5,400.5 478.5,393.5 477.5,393.5 475.5,395.5 475.5,396.5 476.5,397.5 476.5,398.5" fill="#99ccff" stroke="#005fcc"/>
<polygon points="437.5,406.5 437.5,410.5 432.5,410.5 432.5,411.5 433.5,412.5 433.5,413.5 431.5,415.5 430.5,415.5 423.5,408.5 430.5,401.5 431.5,401.5 433.5,403.5 433.5,404.5 432.5,405.5 432.5,406.5" fill="#ffcccc" stroke="#d40000"/>
<polygon points="444.5,417.5 448.5,417.5 448.5,422.5 449.5,422.5 450.5,421.5 451.5,421.5 453.5,423.5 453.5,424.5 446.5,431.5 439.5,424.5 439.5,423.5 441.5,421.5 442.5,421.5 443.5,422.5 444.5,422.5" fill="#ffcccc" stroke="#d40000"/>
<polygon points="471.5,422.5 471.5,426.5 476.5,426.5 476.5,427.5 475.5,428.5 475.5,429.5 477.5,431.5 478.5,431.5 485.5,424.5 478.5,417.5 477.5,417.5 475.5,419.5 475.5,420.5 476.5,421.5 476.5,422.5" fill="#ffcccc" stroke="#d40000"/>
<polygon points="437.5,438.5 437.5,442.5 432.5,442.5 432.5,443.5 433.5,444.5 433.5,445.5 431.5,447.5 430.5,447.5 423.5,440.5 430.5,433.5 431.5,433.5 433.5,435.5 433.5,436.5 432.5,437.5 432.5,438.5" fill="#ffcccc" stroke="#d40000"/>
<polygon points="437.5,454.5 437.5,458.5 432.5,458.5 432.5,459.5 433.5,460.5 433.5,461.5 431.5,463.5 430.5,463.5 423.5,456.5 430.5,449.5 431.5,449.5 433.5,451.5 433.5,452.5 432.5,453.5 432.5,454.5" fill="#ffcccc" stroke="#d40000"/>
<polygon points="444.5,449.5 448.5,449.5 448.5,454.5 449.5,454.5 450.5,453.5 451.5,453.5 453.5,455.5 453.5,456.5 446.5,463.5 439.5,456.5 439.5,455.5 441.5,453.5 442.5,453.5 443.5,454.5 444.5,454.5" fill="#ffcccc" stroke="#d40000"/>
<polygon points="460.5,479.5 464.5,479.5 464.5,474.5 465.5,474.5 466.5,475.5 467.5,475.5 469.5,473.5 469.5,472.5 462.5,465.5 455.5,472.5 455.5,473.5 457.5,475.5 458.5,475.5 459.5,474.5 460.5,474.5" fill="#ffcccc" stroke="#d40000"/>
<polygon points="471.5,486.5 471.5,490.5 476.5,490.5 476.5,491.5 475.5,492.5 475.5,493.5 477.5,495.5 478.5,495.5 485.5,488.5 478.5,481.5 477.5,481.5 475.5,483.5 475.5,484.5 476.5,485.5 476.5,486.5" fill="#ffcccc" stroke="#d40000"/>
<polygon points="460.5,511.5 464.5,511.5 464.5,506.5 465.5,506.5 466.5,507.5 467.5,507.5 469.5,505.5 469.5,504.5 462.5,497.5 455.5,504.5 455.5,505.5 457.5,507.5 458.5,507.5 459.5,506.5 460.5,506.5" fill="#ffcccc" stroke="#d40000"/>
<polygon points="471.5,518.5 471.5,522.5 476.5,522.5 476.5,523.5 475.5,524.5 475.5,525.5 477.5,527.5 478.5,527.5 485.5,520.5 478.5,513.5 477.5,513.5 475.5,515.5 475.5,516.5 476.5,517.5 476.5,518.5" fill="#ffcccc" stroke="#d40000"/>
<polygon points="437.5,534.5 437.5,538.5 432.5,538.5 432.5,539.5 433.5,540.5 433.5,541.5 431.5,543.5 430.5,543.5 423.5,536.5 430.5,529.5 431.5,529.5 433.5,531.5 433.5,532.5 432.5,533.5 432.5,534.5" fill="#ffcccc" stroke="#d40000"/>
<polygon points="460.5,559.5 464.5,559.5 464.5,554.5 465.5,554.5 466.5,555.5 467.5,555.5 469.5,553.5 469.5,552.5 462.5,545.5 455.5,552.5 455.5,553.5 457.5,555.5 458.5,555.5 459.5,554.5 460.5,554.5" fill="#ffcccc" stroke="#d40000"/>
<polygon points="444.5,561.5 448.5,561.5 448.5,566.5 449.5,566.5 450.5,565.5 451.5,565.5 453.5,567.5 453.5,568.5 446.5,575.5 439.5,568.5 439.5,567.5 441.5,565.5 442.5,565.5 443.5,566.5 444.5,566.5" fill="#ffcccc" stroke="#d40000"/>
<polygon points="471.5,582.5 471.5,586.5 476.5,586.5 476.5,587.5 475.5,588.5 475.5,589.5 477.5,591.5 478.5,591.5 485.5,584.5 478.5,577.5 477.5,577.5 475.5,579.5 475.5,580.5 476.5,581.5 476.5,582.5" fill="#ffcccc" stroke="#d40000"/>
<polygon points="437.5,598.5 437.5,602.5 432.5,602.5 432.5,603.5 433.5,604.5 433.5,605.5 431.5,607.5 430.5,607.5 423.5,600.5 430.5,593.5 431.5,593.5 433.5,595.5 433.5,596.5 432.5,597.5 432.5,598.5" fill="#ffcccc" stroke="#d40000"/>
<polygon points="444.5,609.5 448.5,609.5 448.5,614.5 449.5,614.5 450.5,613.5 451.5,613.5 453.5,615.5 453.5,616.5 446.5,623.5 439.5,616.5 439.5,615.5 441.5,613.5 442.5,613.5 443.5,614.5 444.5,614.5" fill="#ffcccc" stroke="#d40000"/>
<polygon points="437.5,630.5 437.5,634.5 432.5,634.5 432.5,635.5 433.5,636.5 433.5,637.5 431.5,639.5 430.5,639.5 423.5,632.5 430.5,625.5 431.5,625.5 433.5,627.5 433.5,628.5 432.5,629.5 432.5,630.5" fill="#ffcccc" stroke="#d40000"/>
<polygon points="444.5,641.5 448.5,641.5 448.5,646.5 449.5,646.5 450.5,645.5 451.5,645.5 453.5,647.5 453.5,648.5 446.5,655.5 439.5,648.5 439.5,647.5 441.5,645.5 442.5,645.5 443.5,646.5 444.5,646.5" fill="#ffcccc" stroke="#d40000"/>
<polygon points="460.5,671.5 464.5,671.5 464.5,666.5 465.5,666.5 466.5,667.5 467.5,667.5 469.5,665.5 469.5,664.5 462.5,657.5 455.5,664.5 455.5,665.5 457.5,667.5 458.5,667.5 459.5,666.5 460.5,666.5" fill="#ffcccc" stroke="#d40000"/>
<polygon points="471.5,678.5 471.5,682.5 476.5,682.5 476.5,683.5 475.5,684.5 475.5,685.5 477.5,687.5 478.5,687.5 485.5,680.5 478.5,673.5 477.5,673.5 475.5,675.5 475.5,676.5 476.5,677.5 476.5,678.5" fill="#ffcccc" stroke="#d40000"/>
<polygon points="437.5,694.5 437.5,698.5 432.5,698.5 432.5,699.5 433.5,700.5 433.5,701.5 431.5,703.5 430.5,703.5 423.5,696.5 430.5,689.5 431.5,689.5 433.5,691.5 433.5,692.5 432.5,693.5 432.5,694.5" fill="#ffcccc" stroke="#d40000"/>
<polygon points="460.5,719.5 464.5,719.5 464.5,714.5 465.5,714.5 466.5,715.5 467.5,715.5 469.5,713.5 469.5,712.5 462.5,705.5 455.5,712.5 455.5,713.5 457.5,715.5 458.5,715.5 459.5,714.5 460.5,714.5" fill="#ffcccc" stroke="#d40000"/>
<polygon points="444.5,721.5 448.5,721.5 448.5,726.5 449.5,726.5 450.5,725.5 451.5,725.5 453.5,727.5 453.5,728.5 446.5,735.5 439.5,728.5 439.5,727.5 441.5,725.5 442.5,725.5 443.5,726.5 444.5,726.5" fill="#ffcccc" stroke="#d40000"/>
<polygon points="460.5,751.5 464.5,751.5 464.5,746.5 465.5,746.5 466.5,747.5 467.5,747.5 469.5,745.5 469.5,744.5 462.5,737.5 455.5,744.5 455.5,745.5 457.5,747.5 458.5,747.5 459.5,746.5 460.5,746.5" fill="#ffcccc" stroke="#d40000"/>
<polygon points="444.5,753.5 448.5,753.5 448.5,758.5 449.5,758.5 450.5,757.5 451.5,757.5 453.5,759.5 453.5,760.5 446.5,767.5 439.5,760.5 439.5,759.5 441.5,757.5 442.5,757.5 443.5,758.5 444.5,758.5" fill="#ffcccc" stroke="#d40000"/>
<polygon points="460.5,783.5 464.5,783.5 464.5,778.5 465.5,778.5 466.5,779.5 467.5,779.5 469.5,777.5 469.5,776.5 462.5,769.5 455.5,776.5 455.5,777.5 457.5,779.5 458.5,779.5 459.5,778.5 460.5,778.5" fill="#ffcccc" stroke="#d40000"/>
<polygon points="437.5,790.5 437.5,794.5 432.5,794.5 432.5,795.5 433.5,796.5 433.5,797.5 431.5,799.5 430.5,799.5 423.5,792.5 430.5,785.5 431.5,785.5 433.5,787.5 433.5,788.5 432.5,789.5 432.5,790.5" fill="#ffcccc" stroke="#d40000"/>
<polygon points="471.5,806.5 471.5,810.5 476.5,810.5 476.5,811.5 475.5,812.5 475.5,813.5 477.5,815.5 478.5,815.5 485.5,808.5 478.5,801.5 477.5,801.5 475.5,803.5 475.5,804.5 476.5,805.5 476.5,806.5" fill="#ffcccc" stroke="#d40000"/>
<polygon points="524.5,49.5 528.5,49.5 528.5,54.5 529.5,54.5 530.5,53.5 531.5,53.5 533.5,55.5 533.5,56.5 526.5,63.5 519.5,56.5 519.5,55.5 521.5,53.5 522.5,53.5 523.5,54.5 524.5,54.5" fill="#ffcccc" stroke="#d40000"/>
<polygon points="551.5,70.5 551.5,74.5 556.5,74.5 556.5,75.5 555.5,76.5 555.5,77.5 557.5,79.5 558.5,79.5 565.5,72.5 558.5,65.5 557.5,65.5 555.5,67.5 555.5,68.5 556.5,69.5 556.5,70.5" fill="#ffcccc" stroke="#d40000"/>
<polygon points="517.5,86.5 517.5,90.5 512.5,90.5 512.5,91.5 513.5,92.5 513.5,93.5 511.5,95.5 510.5,95.5 503.5,88.5 510.5,81.5 511.5,81.5 513.5,83.5 513.5,84.5 512.5,85.5 512.5,86.5" fill="#ffcccc" stroke="#d40000"/>
<polygon points="524.5,97.5 528.5,97.5 528.5,102.5 529.5,102.5 530.5,101.5 531.5,101.5 533.5,103.5 533.5,104.5 526.5,111.5 519.5,104.5 519.5,103.5 521.5,101.5 522.5,101.5 523.5,102.5 524.5,102.5" fill="#ffcccc" stroke="#d40000"/>
<polygon points="517.5,118.5 517.5,122.5 512.5,122.5 512.5,123.5 513.5,124.5 513.5,125.5 511.5,127.5 510.5,127.5 503.5,120.5 510.5,113.5 511.5,113.5 513.5,115.5 513.5,116.5 512.5,117.5 512.5,118.5" fill="#ffcccc" stroke="#d40000"/>
<polygon points="524.5,129.5 528.5,129.5 528.5,134.5 529.5,134.5 530.5,133.5 531.5,133.5 533.5,135.5 533.5,136.5 526.5,143.5 519.5,136.5 519.5,135.5 521.5,133.5 522.5,133.5 523.5,134.5 524.5,134.5" fill="#ffcccc" stroke="#d40000"/>
<polygon points="540.5,159.5 544.5,159.5 544.5,154.5 545.5,154.5 546.5,155.5 547.5,155.5 549.5,153.5 549.5,152.5 542.5,145.5 535.5,152.5 535.5,153.5 537.5,155.5 538.5,155.5 539.5,154.5 540.5,154.5" fill="#ffcccc" stroke="#d40000"/>
<polygon points="551.5,166.5 551.5,170.5 556.5,170.5 556.5,171.5 555.5,172.5 555.5,173.5 557.5,175.5 558.5,175.5 565.5,168.5 558.5,161.5 557.5,161.5 555.5,163.5 555.5,164.5 556.5,165.5 556.5,166.5" fill="#ffcccc" stroke="#d40000"/>
<polygon points="517.5,182.5 517.5,186.5 512.5,186.5 512.5,187.5 513.5,188.5 513.5,189.5 511.5,191.5 510.5,191.5 503.5,184.5 510.5,177.5 511.5,177.5 513.5,179.5 513.5,180.5 512.5,181.5 512.5,182.5" fill="#ffcccc" stroke="#d40000"/>
<polygon points="540.5,207.5 544.5,207.5 544.5,202.5 545.5,202.5 546.5,203.5 547.5,203.5 549.5,201.5 549.5,200.5 542.5,193.5 535.5,200.5 535.5,201.5 537.5,203.5 538.5,203.5 539.5,202.5 540.5,202.5" fill="#ffcccc" stroke="#d40000"/>
<polygon points="524.5,209.5 528.5,209.5 528.5,214.5 529.5,214.5 530.5,213.5 531.5,213.5 533.5,215.5 533.5,216.5 526.5,223.5 519.5,216.5 519.5,215.5 521.5,213.5 522.5,213.5 523.5,214.5 524.5,214.5" fill="#ffcccc" stroke="#d40000"/>
<polygon points="551.5,230.5 551.5,234.5 556.5,234.5 556.5,235.5 555.5,236.5 555.5,237.5 557.5,239.5 558.5,239.5 565.5,232.5 558.5,225.5 557.5,225.5 555.5,227.5 555.5,228.5 556.5,229.5 556.5,230.5" fill="#ffcccc" stroke="#d40000"/>
<polygon points="524.5,241.5 528.5,241.5 528.5,246.5 529.5,246.5 530.5,245.5 531.5,245.5 533.5,247.5 533.5,248.5 526.5,255.5 519.5,248.5 519.5,247.5 521.5,245.5 522.5,245.5 523.5,246.5 524.5,246.5" fill="#ffcccc" stroke="#d40000"/>
<polygon points="551.5,262.5 551.5,266.5 556.5,266.5 556.5,267.5 555.5,268.5 555.5,269.5 557.5,271.5 558.5,271.5 565.5,264.5 558.5,257.5 557.5,257.5 555.5,259.5 555.5,260.5 556.5,261.5 556.5,262.5" fill="#ffcccc" stroke="#d40000"/>
<polygon points="517.5,278.5 517.5,282.5 512.5,282.5 512.5,283.5 513.5,284.5 513.5,285.5 511.5,287.5 510.5,287.5 503.5,280.5 510.5,273.5 511.5,273.5 513.5,275.5 513.5,276.5 512.5,277.5 512.5,278.5" fill="#ffcccc" stroke="#d40000"/>
<polygon points="551.5,294.5 551.5,298.5 556.5,298.5 556.5,299.5 555.5,300.5 555.5,301.5 557.5,303.5 558.5,303.5 565.5,296.5 558.5,289.5 557.5,289.5 555.5,291.5 555.5,292.5 556.5,293.5 556.5,294.5" fill="#ffcccc" stroke="#d40000"/>
<polygon points="540.5,319.5 544.5,319.5 544.5,314.5 545.5,314.5 546.5,315.5 547.5,315.5 549.5,313.5 549.5,312.5 542.5,305.5 535.5,312.5 535.5,313.5 537.5,315.5 538.5,315.5 539.5,314.5 540.5,314.5" fill="#ffcccc" stroke="#d40000"/>
<polygon points="524.5,321.5 528.5,321.5 528.5,326.5 529.5,326.5 530.5,325.5 531.5,325.5 533.5,327.5 533.5,328.5 526.5,335.5 519.5,328.5 519.5,327.5 521.5,325.5 522.5,325.5 523.5,326.5 524.5,326.5" fill="#ffcccc" stroke="#d40000"/>
<polygon points="517.5,342.5 517.5,346.5 512.5,346.5 512.5,347.5 513.5,348.5 513.5,349.5 511.5,351.5 510.5,351.5 503.5,344.5 510.5,337.5 511.5,337.5 513.5,339.5 513.5,340.5 512.5,341.5 512.5,342.5" fill="#ffcccc" stroke="#d40000"/>
<polygon points="540.5,367.5 544.5,367.5 544.5,362.5 545.5,362.5 546.5,363.5 547.5,363.5 549.5,361.5 549.5,360.5 542.5,353.5 535.5,360.5 535.5,361.5 537.5,363.5 538.5,363.5 539.5,362.5 540.5,362.5" fill="#ffcccc" stroke="#d40000"/>
<polygon points="517.5,374.5 517.5,378.5 512.5,378.5 512.5,379.5 513.5,380.5 513.5,381.5 511.5,383.5 510.5,383.5 503.5,376.5 510.5,369.5 511.5,369.5 513.5,371.5 513.5,372.5 512.5,373.5 512.5,374.5" fill="#ffcccc" stroke="#d40000"/>
<polygon points="540.5,399.5 544.5,399.5 544.5,394.5 545.5,394.5 546.5,395.5 547.5,395.5 549.5,393.5 549.5,392.5 542.5,385.5 535.5,392.5 535.5,393.5 537.5,395.5 538.5,395.5 539.5,394.5 540.5,394.5" fill="#ffcccc" stroke="#d40000"/>
<polygon points="524.5,401.5 528.5,401.5 528.5,406.5 529.5,406.5 530.5,405.5 531.5,405.5 533.5,407.5 533.5,408.5 526.5,415.5 519.5,408.5 519.5,407.5 521.5,405.5 522.5,405.5 523.5,406.5 524.5,406.5" fill="#ffcccc" stroke="#d40000"/>
<polygon points="551.5,422.5 551.5,426.5 556.5,426.5 556.5,427.5 555.5,428.5 555.5,429.5 557.5,431.5 558.5,431.5 565.5,424.5 558.5,417.5 557.5,417.5 555.5,419.5 555.5,420.5 556.5,421.5 556.5,422.5" fill="#ffcccc" stroke="#d40000"/>
<polygon points="517.5,438.5 517.5,442.5 512.5,442.5 512.5,443.5 513.5,444.5 513.5,445.5 511.5,447.5 510.5,447.5 503.5,440.5 510.5,433.5 511.5,433.5 513.5,435.5 513.5,436.5 512.5,437.5 512.5,438.5" fill="#ffcccc" stroke="#d40000"/>
<polygon points="551.5,454.5 551.5,458.5 556.5,458.5 556.5,459.5 555.5,460.5 555.5,461.5 557.5,463.5 558.5,463.5 565.5,456.5 558.5,449.5 557.5,449.5 555.5,451.5 555.5,452.5 556.5,453.5 556.5,454.5" fill="#ffcccc" stroke="#d40000"/>
<polygon points="540.5,479.5 544.5,479.5 544.5,474.5 545.5,474.5 546.5,475.5 547.5,475.5 549.5,473.5 549.5,472.5 542.5,465.5 535.5,472.5 535.5,473.5 537.5,475.5 538.5,475.5 539.5,474.5 540.5,474.5" fill="#ffcccc" stroke="#d40000"/>
<polygon points="524.5,481.5 528.5,481.5 528.5,486.5 529.5,486.5 530.5,485.5 531.5,485.5 533.5,487.5 533.5,488.5 526.5,495.5 519.5,488.5 519.5,487.5 521.5,485.5 522.5,485.5 523.5,486.5 524.5,486.5" fill="#ffcccc" stroke="#d40000"/>
<polygon points="503.5,504.5 503.5,520.5 510.5,527.5 511.5,527.5 513.5,525.5 513.5,524.5 512.5,523.5 512.5,522.5 517.5,522.5 517.5,520.5 517.5,504.5" fill="#ccffcc" stroke="#009900"/>
<polygon points="517.5,502.5 517.5,506.5 512.5,506.5 512.5,507.5 513.5,508.5 513.5,509.5 511.5,511.5 510.5,511.5 503.5,504.5 510.5,497.5 511.5,497.5 513.5,499.5 513.5,500.5 512.5,501.5 512.5,502.5" fill="#ffcccc" stroke="#d40000"/>
<polygon points="551.5,534.5 551.5,538.5 556.5,538.5 556.5,539.5 555.5,540.5 555.5,541.5 557.5,543.5 558.5,543.5 565.5,536.5 558.5,529.5 557.5,529.5 555.5,531.5 555.5,532.5 556.5,533.5 556.5,534.5" fill="#ffcccc" stroke="#d40000"/>
<polygon points="524.5,545.5 528.5,545.5 528.5,550.5 529.5,550.5 530.5,549.5 531.5,549.5 533.5,551.5 533.5,552.5 526.5,559.5 519.5,552.5 519.5,551.5 521.5,549.5 522.5,549.5 523.5,550.5 524.5,550.5" fill="#ffcccc" stroke="#d40000"/>
<polygon points="551.5,568.5 551.5,584.5 551.5,586.5 556.5,586.5 556.5,587.5 555.5,588.5 555.5,589.5 557.5,591.5 558.5,591.5 565.5,584.5 565.5,568.5" fill="#ccffcc" stroke="#009900"/>
<polygon points="551.5,566.5 551.5,570.5 556.5,570.5 556.5,571.5 555.5,572.5 555.5,573.5 557.5,575.5 558.5,575.5 565.5,568.5 558.5,561.5 557.5,561.5 555.5,563.5 555.5,564.5 556.5,565.5 556.5,566.5" fill="#ffcccc" stroke="#d40000"/>
<polygon points="540.5,607.5 544.5,607.5 544.5,602.5 545.5,602.5 546.5,603.5 547.5,603.5 549.5,601.5 549.5,600.5 542.5,593.5 535.5,600.5 535.5,601.5 537.5,603.5 538.5,603.5 539.5,602.5 540.5,602.5" fill="#ffcccc" stroke="#d40000"/>
<polygon points="551.5,614.5 551.5,618.5 556.5,618.5 556.5,619.5 555.5,620.5 555.5,621.5 557.5,623.5 558.5,623.5 565.5,616.5 558.5,609.5 557.5,609.5 555.5,611.5 555.5,612.5 556.5,613.5 556.5,614.5" fill="#ffcccc" stroke="#d40000"/>
<polygon points="517.5,630.5 517.5,634.5 512.5,634.5 512.5,635.5 513.5,636.5 513.5,637.5 511.5,639.5 510.5,639.5 503.5,632.5 510.5,625.5 511.5,625.5 513.5,627.5 513.5,628.5 512.5,629.5 512.5,630.5" fill="#ffcccc" stroke="#d40000"/>
<polygon points="524.5,641.5 528.5,641.5 528.5,646.5 529.5,646.5 530.5,645.5 531.5,645.5 533.5,647.5 533.5,648.5 526.5,655.5 519.5,648.5 519.5,647.5 521.5,645.5 522.5,645.5 523.5,646.5 524.5,646.5" fill="#ffcccc" stroke="#d40000"/>
<polygon points="540.5,687.5 544.5,687.5 544.5,682.5 545.5,682.5 546.5,683.5 547.5,683.5 549.5,681.5 549.5,680.5 542.5,673.5 535.5,680.5 535.5,681.5 537.5,683.5 538.5,683.5 539.5,682.5 540.5,682.5" fill="#ffcccc" stroke="#d40000"/>
<polygon points="524.5,689.5 528.5,689.5 528.5,694.5 529.5,694.5 530.5,693.5 531.5,693.5 533.5,695.5 533.5,696.5 526.5,703.5 519.5,696.5 519.5,695.5 521.5,693.5 522.5,693.5 523.5,694.5 524.5,694.5" fill="#ffcccc" stroke="#d40000"/>
<polygon points="517.5,726.5 517.5,730.5 512.5,730.5 512.5,731.5 513.5,732.5 513.5,733.5 511.5,735.5 510.5,735.5 503.5,728.5 510.5,721.5 511.5,721.5 513.5,723.5 513.5,724.5 512.5,725.5 512.5,726.5" fill="#ffcccc" stroke="#d40000"/>
<polygon points="524.5,737.5 528.5,737.5 528.5,742.5 529.5,742.5 530.5,741.5 531.5,741.5 533.5,743.5 533.5,744.5 526.5,751.5 519.5,744.5 519.5,743.5 521.5,741.5 522.5,741.5 523.5,742.5 524.5,742.5" fill="#ffcccc" stroke="#d40000"/>
<polygon points="540.5,767.5 544.5,767.5 544.5,762.5 545.5,762.5 546.5,763.5 547.5,763.5 549.5,761.5 549.5,760.5 542.5,753.5 535.5,760.5 535.5,761.5 537.5,763.5 538.5,763.5 539.5,762.5 540.5,762.5" fill="#ffcccc" stroke="#d40000"/>
<polygon points="551.5,774.5 551.5,778.5 556.5,778.5 556.5,779.5 555.5,780.5 555.5,781.5 557.5,783.5 558.5,783.5 565.5,776.5 558.5,769.5 557.5,769.5 555.5,771.5 555.5,772.5 556.5,773.5 556.5,774.5" fill="#ffcccc" stroke="#d40000"/>
<polygon points="524.5,785.5 528.5,785.5 528.5,790.5 529.5,790.5 530.5,789.5 531.5,789.5 533.5,791.5 533.5,792.5 526.5,799.5 519.5,792.5 519.5,791.5 521.5,789.5 522.5,789.5 523.5,790.5 524.5,790.5" fill="#ffcccc" stroke="#d40000"/>
<polygon points="551.5,806.5 551.5,810.5 556.5,810.5 556.5,811.5 555.5,812.5 555.5,813.5 557.5,815.5 558.5,815.5 565.5,808.5 558.5,801.5 557.5,801.5 555.5,803.5 555.5,804.5 556.5,805.5 556.5,806.5" fill="#ffcccc" stroke="#d40000"/>
<polygon points="620.5,63.5 624.5,63.5 624.5,58.5 625.5,58.5 626.5,59.5 627.5,59.5 629.5,57.5 629.5,56.5 622.5,49.5 615.5,56.5 615.5,57.5 617.5,59.5 618.5,59.5 619.5,58.5 620.5,58.5" fill="#ffcccc" stroke="#d40000"/>
<polygon points="604.5,65.5 608.5,65.5 608.5,70.5 609.5,70.5 610.5,69.5 611.5,69.5 613.5,71.5 613.5,72.5 606.5,79.5 599.5,72.5 599.5,71.5 601.5,69.5 602.5,69.5 603.5,70.5 604.5,70.5" fill="#ffcccc" stroke="#d40000"/>
<polygon points="597.5,86.5 597.5,90.5 592.5,90.5 592.5,91.5 593.5,92.5 593.5,93.5 591.5,95.5 590.5,95.5 583.5,88.5 590.5,81.5 591.5,81.5 593.5,83.5 593.5,84.5 592.5,85.5 592.5,86.5" fill="#ffcccc" stroke="#d40000"/>
<polygon points="620.5,111.5 624.5,111.5 624.5,106.5 625.5,106.5 626.5,107.5 627.5,107.5 629.5,105.5 629.5,104.5 622.5,97.5 615.5,104.5 615.5,105.5 617.5,107.5 618.5,107.5 619.5,106.5 620.5,106.5" fill="#ffcccc" stroke="#d40000"/>
<polygon points="604.5,113.5 608.5,113.5 608.5,118.5 609.5,118.5 610.5,117.5 611.5,117.5 613.5,119.5 613.5,120.5 606.5,127.5 599.5,120.5 599.5,119.5 601.5,117.5 602.5,117.5 603.5,118.5 604.5,118.5" fill="#ffcccc" stroke="#d40000"/>
<polygon points="631.5,134.5 631.5,138.5 636.5,138.5 636.5,139.5 635.5,140.5 635.5,141.5 637.5,143.5 638.5,143.5 645.5,136.5 638.5,129.5 637.5,129.5 635.5,131.5 635.5,132.5 636.5,133.5 636.5,134.5" fill="#ffcccc" stroke="#d40000"/>
<polygon points="597.5,150.5 597.5,154.5 592.5,154.5 592.5,155.5 593.5,156.5 593.5,157.5 591.5,159.5 590.5,159.5 583.5,152.5 590.5,145.5 591.5,145.5 593.5,147.5 593.5,148.5 592.5,149.5 592.5,150.5" fill="#ffcccc" stroke="#d40000"/>
<polygon points="631.5,166.5 631.5,170.5 636.5,170.5 636.5,171.5 635.5,172.5 635.5,173.5 637.5,175.5 638.5,175.5 645.5,168.5 638.5,161.5 637.5,161.5 635.5,163.5 635.5,164.5 636.5,165.5 636.5,166.5" fill="#ffcccc" stroke="#d40000"/>
<polygon points="620.5,191.5 624.5,191.5 624.5,186.5 625.5,186.5 626.5,187.5 627.5,187.5 629.5,185.5 629.5,184.5 622.5,177.5 615.5,184.5 615.5,185.5 617.5,187.5 618.5,187.5 619.5,186.5 620.5,186.5" fill="#ffcccc" stroke="#d40000"/>
<polygon points="604.5,193.5 608.5,193.5 608.5,198.5 609.5,198.5 610.5,197.5 611.5,197.5 613.5,199.5 613.5,200.5 606.5,207.5 599.5,200.5 599.5,199.5 601.5,197.5 602.5,197.5 603.5,198.5 604.5,198.5" fill="#ffcccc" stroke="#d40000"/>
<polygon points="597.5,214.5 597.5,218.5 592.5,218.5 592.5,219.5 593.5,220.5 593.5,221.5 591.5,223.5 590.5,223.5 583.5,216.5 590.5,209.5 591.5,209.5 593.5,211.5 593.5,212.5 592.5,213.5 592.5,214.5" fill="#ffcccc" stroke="#d40000"/>
<polygon points="620.5,239.5 624.5,239.5 624.5,234.5 625.5,234.5 626.5,235.5 627.5,235.5 629.5,233.5 629.5,232.5 622.5,225.5 615.5,232.5 615.5,233.5 617.5,235.5 618.5,235.5 619.5,234.5 620.5,234.5" fill="#ffcccc" stroke="#d40000"/>
<polygon points="604.5,241.5 608.5,241.5 608.5,246.5 609.5,246.5 610.5,245.5 611.5,245.5 613.5,247.5 613.5,248.5 606.5,255.5 599.5,248.5 599.5,247.5 601.5,245.5 602.5,245.5 603.5,246.5 604.5,246.5" fill="#ffcccc" stroke="#d40000"/>
<polygon points="631.5,262.5 631.5,266.5 636.5,266.5 636.5,267.5 635.5,268.5 635.5,269.5 637.5,271.5 638.5,271.5 645.5,264.5 638.5,257.5 637.5,257.5 635.5,259.5 635.5,260.5 636.5,261.5 636.5,262.5" fill="#ffcccc" stroke="#d40000"/>
<polygon points="597.5,278.5 597.5,282.5 592.5,282.5 592.5,283.5 593.5,284.5 593.5,285.5 591.5,287.5 590.5,287.5 583.5,280.5 590.5,273.5 591.5,273.5 593.5,275.5 593.5,276.5 592.5,277.5 592.5,278.5" fill="#ffcccc" stroke="#d40000"/>
<polygon points="631.5,294.5 631.5,298.5 636.5,298.5 636.5,299.5 635.5,300.5 635.5,301.5 637.5,303.5 638.5,303.5 645.5,296.5 638.5,289.5 637.5,289.5 635.5,291.5 635.5,292.5 636.5,293.5 636.5,294.5" fill="#ffcccc" stroke="#d40000"/>
<polygon points="620.5,319.5 624.5,319.5 624.5,314.5 625.5,314.5 626.5,315.5 627.5,315.5 629.5,313.5 629.5,312.5 622.5,305.5 615.5,312.5 615.5,313.5 617.5,315.5 618.5,315.5 619.5,314.5 620.5,314.5" fill="#ffcccc" stroke="#d40000"/>
<polygon points="604.5,321.5 608.5,321.5 608.5,326.5 609.5,326.5 610.5,325.5 611.5,325.5 613.5,327.5 613.5,328.5 606.5,335.5 599.5,328.5 599.5,327.5 601.5,325.5 602.5,325.5 603.5,326.5 604.5,326.5" fill="#ffcccc" stroke="#d40000"/>
<polygon points="597.5,342.5 597.5,346.5 592.5,346.5 592.5,347.5 593.5,348.5 593.5,349.5 591.5,351.5 590.5,351.5 583.5,344.5 590.5,337.5 591.5,337.5 593.5,339.5 593.5,340.5 592.5,341.5 592.5,342.5" fill="#ffcccc" stroke="#d40000"/>
<polygon points="604.5,353.5 608.5,353.5 608.5,358.5 609.5,358.5 610.5,357.5 611.5,357.5 613.5,359.5 613.5,360.5 606.5,367.5 599.5,360.5 599.5,359.5 601.5,357.5 602.5,357.5 603.5,358.5 604.5,358.5" fill="#ffcccc" stroke="#d40000"/>
<polygon points="620.5,383.5 624.5,383.5 624.5,378.5 625.5,378.5 626.5,379.5 627.5,379.5 629.5,377.5 629.5,376.5 622.5,369.5 615.5,376.5 615.5,377.5 617.5,379.5 618.5,379.5 619.5,378.5 620.5,378.5" fill="#ffcccc" stroke="#d40000"/>
<polygon points="631.5,390.5 631.5,394.5 636.5,394.5 636.5,395.5 635.5,396.5 635.5,397.5 637.5,399.5 638.5,399.5 645.5,392.5 638.5,385.5 637.5,385.5 635.5,387.5 635.5,388.5 636.5,389.5 636.5,390.5" fill="#ffcccc" stroke="#d40000"/>
<polygon points="597.5,406.5 597.5,410.5 592.5,410.5 592.5,411.5 593.5,412.5 593.5,413.5 591.5,415.5 590.5,415.5 583.5,408.5 590.5,401.5 591.5,401.5 593.5,403.5 593.5,404.5 592.5,405.5 592.5,406.5" fill="#ffcccc" stroke="#d40000"/>
<polygon points="631.5,422.5 631.5,426.5 636.5,426.5 636.5,427.5 635.5,428.5 635.5,429.5 637.5,431.5 638.5,431.5 645.5,424.5 638.5,417.5 637.5,417.5 635.5,419.5 635.5,420.5 636.5,421.5 636.5,422.5" fill="#ffcccc" stroke="#d40000"/>
<polygon points="604.5,433.5 608.5,433.5 608.5,438.5 609.5,438.5 610.5,437.5 611.5,437.5 613.5,439.5 613.5,440.5 606.5,447.5 599.5,440.5 599.5,439.5 601.5,437.5 602.5,437.5 603.5,438.5 604.5,438.5" fill="#ffcccc" stroke="#d40000"/>
<polygon points="631.5,454.5 631.5,458.5 636.5,458.5 636.5,459.5 635.5,460.5 635.5,461.5 637.5,463.5 638.5,463.5 645.5,456.5 638.5,449.5 637.5,449.5 635.5,451.5 635.5,452.5 636.5,453.5 636.5,454.5" fill="#ffcccc" stroke="#d40000"/>
<polygon points="620.5,479.5 624.5,479.5 624.5,474.5 625.5,474.5 626.5,475.5 627.5,475.5 629.5,473.5 629.5,472.5 622.5,465.5 615.5,472.5 615.5,473.5 617.5,475.5 618.5,475.5 619.5,474.5 620.5,474.5" fill="#ffcccc" stroke="#d40000"/>
<polygon points="604.5,481.5 608.5,481.5 608.5,486.5 609.5,486.5 610.5,485.5 611.5,485.5 613.5,487.5 613.5,488.5 606.5,495.5 599.5,488.5 599.5,487.5 601.5,485.5 602.5,485.5 603.5,486.5 604.5,486.5" fill="#ffcccc" stroke="#d40000"/>
<polygon points="597.5,502.5 597.5,506.5 592.5,506.5 592.5,507.5 593.5,508.5 593.5,509.5 591.5,511.5 590.5,511.5 583.5,504.5 590.5,497.5 591.5,497.5 593.5,499.5 593.5,500.5 592.5,501.5 592.5,502.5" fill="#ffcccc" stroke="#d40000"/>
<polygon points="620.5,527.5 624.5,527.5 624.5,522.5 625.5,522.5 626.5,523.5 627.5,523.5 629.5,521.5 629.5,520.5 622.5,513.5 615.5,520.5 615.5,521.5 617.5,523.5 618.5,523.5 619.5,522.5 620.5,522.5" fill="#ffcccc" stroke="#d40000"/>
<polygon points="604.5,529.5 608.5,529.5 608.5,534.5 609.5,534.5 610.5,533.5 611.5,533.5 613.5,535.5 613.5,536.5 606.5,543.5 599.5,536.5 599.5,535.5 601.5,533.5 602.5,533.5 603.5,534.5 604.5,534.5" fill="#ffcccc" stroke="#d40000"/>
<polygon points="620.5,559.5 624.5,559.5 624.5,554.5 625.5,554.5 626.5,555.5 627.5,555.5 629.5,553.5 629.5,552.5 622.5,545.5 615.5,552.5 615.5,553.5 617.5,555.5 618.5,555.5 619.5,554.5 620.5,554.5" fill="#ffcccc" stroke="#d40000"/>
<polygon points="597.5,566.5 597.5,570.5 592.5,570.5 592.5,571.5 593.5,572.5 593.5,573.5 591.5,575.5 590.5,575.5 583.5,568.5 590.5,561.5 591.5,561.5 593.5,563.5 593.5,564.5 592.5,565.5 592.5,566.5" fill="#ffcccc" stroke="#d40000"/>
<polygon points="631.5,582.5 631.5,586.5 636.5,586.5 636.5,587.5 635.5,588.5 635.5,589.5 637.5,591.5 638.5,591.5 645.5,584.5 638.5,577.5 637.5,577.5 635.5,579.5 635.5,580.5 636.5,581.5 636.5,582.5" fill="#ffcccc" stroke="#d40000"/>
<polygon points="604.5,593.5 608.5,593.5 608.5,598.5 609.5,598.5 610.5,597.5 611.5,597.5 613.5,599.5 613.5,600.5 606.5,607.5 599.5,600.5 599.5,599.5 601.5,597.5 602.5,597.5 603.5,598.5 604.5,598.5" fill="#ffcccc" stroke="#d40000"/>
<polygon points="631.5,614.5 631.5,618.5 636.5,618.5 636.5,619.5 635.5,620.5 635.5,621.5 637.5,623.5 638.5,623.5 645.5,616.5 638.5,609.5 637.5,609.5 635.5,611.5 635.5,612.5 636.5,613.5 636.5,614.5" fill="#ffcccc" stroke="#d40000"/>
<polygon points="597.5,630.5 597.5,634.5 592.5,634.5 592.5,635.5 593.5,636.5 593.5,637.5 591.5,639.5 590.5,639.5 583.5,632.5 590.5,625.5 591.5,625.5 593.5,627.5 593.5,628.5 592.5,629.5 592.5,630.5" fill="#ffcccc" stroke="#d40000"/>
<polygon points="604.5,641.5 608.5,641.5 608.5,646.5 609.5,646.5 610.5,645.5 611.5,645.5 613.5,647.5 613.5,648.5 606.5,655.5 599.5,648.5 599.5,647.5 601.5,645.5 602.5,645.5 603.5,646.5 604.5,646.5" fill="#ffcccc" stroke="#d40000"/>
<polygon points="620.5,671.5 624.5,671.5 624.5,666.5 625.5,666.5 626.5,667.5 627.5,667.5 629.5,665.5 629.5,664.5 622.5,657.5 615.5,664.5 615.5,665.5 617.5,667.5 618.5,667.5 619.5,666.5 620.5,666.5" fill="#ffcccc" stroke="#d40000"/>
<polygon points="604.5,673.5 608.5,673.5 608.5,678.5 609.5,678.5 610.5,677.5 611.5,677.5 613.5,679.5 613.5,680.5 606.5,687.5 599.5,680.5 599.5,679.5 601.5,677.5 602.5,677.5 603.5,678.5 604.5,678.5" fill="#ffcccc" stroke="#d40000"/>
<polygon points="597.5,694.5 597.5,698.5 592.5,698.5 592.5,699.5 593.5,700.5 593.5,701.5 591.5,703.5 590.5,703.5 583.5,696.5 590.5,689.5 591.5,689.5 593.5,691.5 593.5,692.5 592.5,693.5 592.5,694.5" fill="#ffcccc" stroke="#d40000"/>
<polygon points="631.5,710.5 631.5,714.5 636.5,714.5 636.5,715.5 635.5,716.5 635.5,717.5 637.5,719.5 638.5,719.5 645.5,712.5 638.5,705.5 637.5,705.5 635.5,707.5 635.5,708.5 636.5,709.5 636.5,710.5" fill="#ffcccc" stroke="#d40000"/>
<polygon points="604.5,721.5 608.5,721.5 608.5,726.5 609.5,726.5 610.5,725.5 611.5,725.5 613.5,727.5 613.5,728.5 606.5,735.5 599.5,728.5 599.5,727.5 601.5,725.5 602.5,725.5 603.5,726.5 604.5,726.5" fill="#ffcccc" stroke="#d40000"/>
<polygon points="631.5,742.5 631.5,746.5 636.5,746.5 636.5,747.5 635.5,748.5 635.5,749.5 637.5,751.5 638.5,751.5 645.5,744.5 638.5,737.5 637.5,737.5 635.5,739.5 635.5,740.5 636.5,741.5 636.5,742.5" fill="#ffcccc" stroke="#d40000"/>
<polygon points="583.5,760.5 583.5,776.5 590.5,783.5 591.5,783.5 593.5,781.5 593.5,780.5 592.5,779.5 592.5,778.5 597.5,778.5 597.5,776.5 597.5,760.5" fill="#ccffcc" stroke="#009900"/>
<polygon points="597.5,758.5 597.5,762.5 592.5,762.5 592.5,763.5 593.5,764.5 593.5,765.5 591.5,767.5 590.5,767.5 583.5,760.5 590.5,753.5 591.5,753.5 593.5,755.5 593.5,756.5 592.5,757.5 592.5,758.5" fill="#ffcccc" stroke="#d40000"/>
<polygon points="604.5,785.5 608.5,785.5 608.5,790.5 609.5,790.5 610.5,789.5 611.5,789.5 613.5,791.5 613.5,792.5 606.5,799.5 599.5,792.5 599.5,791.5 601.5,789.5 602.5,789.5 603.5,790.5 604.5,790.5" fill="#ffcccc" stroke="#d40000"/>
<polygon points="620.5,815.5 624.5,815.5 624.5,810.5 625.5,810.5 626.5,811.5 627.5,811.5 629.5,809.5 629.5,808.5 622.5,801.5 615.5,808.5 615.5,809.5 617.5,811.5 618.5,811.5 619.5,810.5 620.5,810.5" fill="#ffcccc" stroke="#d40000"/>
<polygon points="711.5,56.5 711.5,72.5 711.5,74.5 716.5,74.5 716.5,75.5 715.5,76.5 715.5,77.5 717.5,79.5 718.5,79.5 725.5,72.5 725.5,56.5" fill="#ccffcc" stroke="#009900"/>
<polygon points="711.5,54.5 711.5,58.5 716.5,58.5 716.5,59.5 715.5,60.5 715.5,61.5 717.5,63.5 718.5,63.5 725.5,56.5 718.5,49.5 717.5,49.5 715.5,51.5 715.5,52.5 716.5,53.5 716.5,54.5" fill="#ffcccc" stroke="#d40000"/>
<polygon points="677.5,86.5 677.5,90.5 672.5,90.5 672.5,91.5 673.5,92.5 673.5,93.5 671.5,95.5 670.5,95.5 663.5,88.5 670.5,81.5 671.5,81.5 673.5,83.5 673.5,84.5 672.5,85.5 672.5,86.5" fill="#ffcccc" stroke="#d40000"/>
<polygon points="711.5,102.5 711.5,106.5 716.5,106.5 716.5,107.5 715.5,108.5 715.5,109.5 717.5,111.5 718.5,111.5 725.5,104.5 718.5,97.5 717.5,97.5 715.5,99.5 715.5,100.5 716.5,101.5 716.5,102.5" fill="#ffcccc" stroke="#d40000"/>
<polygon points="684.5,113.5 688.5,113.5 688.5,118.5 689.5,118.5 690.5,117.5 691.5,117.5 693.5,119.5 693.5,120.5 686.5,127.5 679.5,120.5 679.5,119.5 681.5,117.5 682.5,117.5 683.5,118.5 684.5,118.5" fill="#ffcccc" stroke="#d40000"/>
<polygon points="711.5,134.5 711.5,138.5 716.5,138.5 716.5,139.5 715.5,140.5 715.5,141.5 717.5,143.5 718.5,143.5 725.5,136.5 718.5,129.5 717.5,129.5 715.5,131.5 715.5,132.5 716.5,133.5 716.5,134.5" fill="#ffcccc" stroke="#d40000"/>
<polygon points="677.5,166.5 677.5,170.5 672.5,170.5 672.5,171.5 673.5,172.5 673.5,173.5 671.5,175.5 670.5,175.5 663.5,168.5 670.5,161.5 671.5,161.5 673.5,163.5 673.5,164.5 672.5,165.5 672.5,166.5" fill="#ffcccc" stroke="#d40000"/>
<polygon points="711.5,182.5 711.5,186.5 716.5,186.5 716.5,187.5 715.5,188.5 715.5,189.5 717.5,191.5 718.5,191.5 725.5,184.5 718.5,177.5 717.5,177.5 715.5,179.5 715.5,180.5 716.5,181.5 716.5,182.5" fill="#ffcccc" stroke="#d40000"/>
<polygon points="679.5,216.5 679.5,248.5 686.5,255.5 693.5,248.5 693.5,216.5" fill="#ccffcc" stroke="#009900"/>
<polygon points="684.5,209.5 688.5,209.5 688.5,214.5 689.5,214.5 690.5,213.5 691.5,213.5 693.5,215.5 693.5,216.5 686.5,223.5 679.5,216.5 679.5,215.5 681.5,213.5 682.5,213.5 683.5,214.5 684.5,214.5" fill="#ffcccc" stroke="#d40000"/>
<polygon points="700.5,255.5 704.5,255.5 704.5,250.5 705.5,250.5 706.5,251.5 707.5,251.5 709.5,249.5 709.5,248.5 702.5,241.5 695.5,248.5 695.5,249.5 697.5,251.5 698.5,251.5 699.5,250.5 700.5,250.5" fill="#ffcccc" stroke="#d40000"/>
</g>
</svg>
<div class="t" id="artist">Onoken</div>
<div class="t" id="title">K8107</div>
<div class="t" id="info">BPM: 179.998993 / ANOTHER SINGLE / 9 feet</div>
<div class="t" id="lab">A</div>
<div class="t" id="bpm">A: 179.998993 BPM</div>
<div class="t" id="stats">430 steps, 15 freeze arrows, max combo 453</div>
</body></html>
